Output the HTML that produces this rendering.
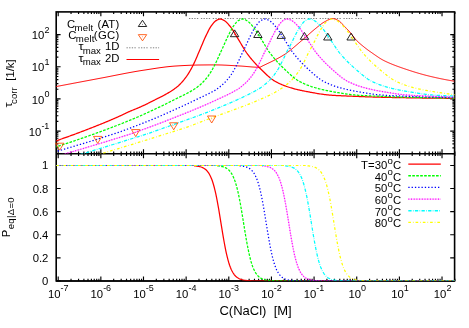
<!DOCTYPE html>
<html><head><meta charset="utf-8"><title>plot</title>
<style>html,body{margin:0;padding:0;background:#fff;}svg{display:block;will-change:transform;}</style>
</head><body>
<svg width="469" height="328" viewBox="0 0 469 328">
<rect width="469" height="328" fill="#fff"/>
<g stroke="#000" fill="none">
<rect x="56.20" y="11.90" width="398.40" height="269.00" stroke-width="1.6"/>
<path d="M56.20,153.75 L454.60,153.75" stroke-width="1.6"/>
<path d="M58.20,11.90 v4.40 M58.20,149.35 v8.80 M58.20,280.90 v-4.40 M71.04,11.90 v2.20 M71.04,151.55 v4.40 M71.04,280.90 v-2.20 M78.55,11.90 v2.20 M78.55,151.55 v4.40 M78.55,280.90 v-2.20 M83.88,11.90 v2.20 M83.88,151.55 v4.40 M83.88,280.90 v-2.20 M88.01,11.90 v2.20 M88.01,151.55 v4.40 M88.01,280.90 v-2.20 M91.39,11.90 v2.20 M91.39,151.55 v4.40 M91.39,280.90 v-2.20 M94.24,11.90 v2.20 M94.24,151.55 v4.40 M94.24,280.90 v-2.20 M96.71,11.90 v2.20 M96.71,151.55 v4.40 M96.71,280.90 v-2.20 M98.90,11.90 v2.20 M98.90,151.55 v4.40 M98.90,280.90 v-2.20 M100.85,11.90 v4.40 M100.85,149.35 v8.80 M100.85,280.90 v-4.40 M113.69,11.90 v2.20 M113.69,151.55 v4.40 M113.69,280.90 v-2.20 M121.19,11.90 v2.20 M121.19,151.55 v4.40 M121.19,280.90 v-2.20 M126.52,11.90 v2.20 M126.52,151.55 v4.40 M126.52,280.90 v-2.20 M130.66,11.90 v2.20 M130.66,151.55 v4.40 M130.66,280.90 v-2.20 M134.03,11.90 v2.20 M134.03,151.55 v4.40 M134.03,280.90 v-2.20 M136.89,11.90 v2.20 M136.89,151.55 v4.40 M136.89,280.90 v-2.20 M139.36,11.90 v2.20 M139.36,151.55 v4.40 M139.36,280.90 v-2.20 M141.54,11.90 v2.20 M141.54,151.55 v4.40 M141.54,280.90 v-2.20 M143.49,11.90 v4.40 M143.49,149.35 v8.80 M143.49,280.90 v-4.40 M156.33,11.90 v2.20 M156.33,151.55 v4.40 M156.33,280.90 v-2.20 M163.84,11.90 v2.20 M163.84,151.55 v4.40 M163.84,280.90 v-2.20 M169.17,11.90 v2.20 M169.17,151.55 v4.40 M169.17,280.90 v-2.20 M173.30,11.90 v2.20 M173.30,151.55 v4.40 M173.30,280.90 v-2.20 M176.68,11.90 v2.20 M176.68,151.55 v4.40 M176.68,280.90 v-2.20 M179.53,11.90 v2.20 M179.53,151.55 v4.40 M179.53,280.90 v-2.20 M182.01,11.90 v2.20 M182.01,151.55 v4.40 M182.01,280.90 v-2.20 M184.19,11.90 v2.20 M184.19,151.55 v4.40 M184.19,280.90 v-2.20 M186.14,11.90 v4.40 M186.14,149.35 v8.80 M186.14,280.90 v-4.40 M198.98,11.90 v2.20 M198.98,151.55 v4.40 M198.98,280.90 v-2.20 M206.49,11.90 v2.20 M206.49,151.55 v4.40 M206.49,280.90 v-2.20 M211.82,11.90 v2.20 M211.82,151.55 v4.40 M211.82,280.90 v-2.20 M215.95,11.90 v2.20 M215.95,151.55 v4.40 M215.95,280.90 v-2.20 M219.33,11.90 v2.20 M219.33,151.55 v4.40 M219.33,280.90 v-2.20 M222.18,11.90 v2.20 M222.18,151.55 v4.40 M222.18,280.90 v-2.20 M224.66,11.90 v2.20 M224.66,151.55 v4.40 M224.66,280.90 v-2.20 M226.84,11.90 v2.20 M226.84,151.55 v4.40 M226.84,280.90 v-2.20 M228.79,11.90 v4.40 M228.79,149.35 v8.80 M228.79,280.90 v-4.40 M241.63,11.90 v2.20 M241.63,151.55 v4.40 M241.63,280.90 v-2.20 M249.14,11.90 v2.20 M249.14,151.55 v4.40 M249.14,280.90 v-2.20 M254.46,11.90 v2.20 M254.46,151.55 v4.40 M254.46,280.90 v-2.20 M258.60,11.90 v2.20 M258.60,151.55 v4.40 M258.60,280.90 v-2.20 M261.97,11.90 v2.20 M261.97,151.55 v4.40 M261.97,280.90 v-2.20 M264.83,11.90 v2.20 M264.83,151.55 v4.40 M264.83,280.90 v-2.20 M267.30,11.90 v2.20 M267.30,151.55 v4.40 M267.30,280.90 v-2.20 M269.48,11.90 v2.20 M269.48,151.55 v4.40 M269.48,280.90 v-2.20 M271.44,11.90 v4.40 M271.44,149.35 v8.80 M271.44,280.90 v-4.40 M284.27,11.90 v2.20 M284.27,151.55 v4.40 M284.27,280.90 v-2.20 M291.78,11.90 v2.20 M291.78,151.55 v4.40 M291.78,280.90 v-2.20 M297.11,11.90 v2.20 M297.11,151.55 v4.40 M297.11,280.90 v-2.20 M301.24,11.90 v2.20 M301.24,151.55 v4.40 M301.24,280.90 v-2.20 M304.62,11.90 v2.20 M304.62,151.55 v4.40 M304.62,280.90 v-2.20 M307.48,11.90 v2.20 M307.48,151.55 v4.40 M307.48,280.90 v-2.20 M309.95,11.90 v2.20 M309.95,151.55 v4.40 M309.95,280.90 v-2.20 M312.13,11.90 v2.20 M312.13,151.55 v4.40 M312.13,280.90 v-2.20 M314.08,11.90 v4.40 M314.08,149.35 v8.80 M314.08,280.90 v-4.40 M326.92,11.90 v2.20 M326.92,151.55 v4.40 M326.92,280.90 v-2.20 M334.43,11.90 v2.20 M334.43,151.55 v4.40 M334.43,280.90 v-2.20 M339.76,11.90 v2.20 M339.76,151.55 v4.40 M339.76,280.90 v-2.20 M343.89,11.90 v2.20 M343.89,151.55 v4.40 M343.89,280.90 v-2.20 M347.27,11.90 v2.20 M347.27,151.55 v4.40 M347.27,280.90 v-2.20 M350.12,11.90 v2.20 M350.12,151.55 v4.40 M350.12,280.90 v-2.20 M352.60,11.90 v2.20 M352.60,151.55 v4.40 M352.60,280.90 v-2.20 M354.78,11.90 v2.20 M354.78,151.55 v4.40 M354.78,280.90 v-2.20 M356.73,11.90 v4.40 M356.73,149.35 v8.80 M356.73,280.90 v-4.40 M369.57,11.90 v2.20 M369.57,151.55 v4.40 M369.57,280.90 v-2.20 M377.08,11.90 v2.20 M377.08,151.55 v4.40 M377.08,280.90 v-2.20 M382.41,11.90 v2.20 M382.41,151.55 v4.40 M382.41,280.90 v-2.20 M386.54,11.90 v2.20 M386.54,151.55 v4.40 M386.54,280.90 v-2.20 M389.91,11.90 v2.20 M389.91,151.55 v4.40 M389.91,280.90 v-2.20 M392.77,11.90 v2.20 M392.77,151.55 v4.40 M392.77,280.90 v-2.20 M395.24,11.90 v2.20 M395.24,151.55 v4.40 M395.24,280.90 v-2.20 M397.42,11.90 v2.20 M397.42,151.55 v4.40 M397.42,280.90 v-2.20 M399.38,11.90 v4.40 M399.38,149.35 v8.80 M399.38,280.90 v-4.40 M412.21,11.90 v2.20 M412.21,151.55 v4.40 M412.21,280.90 v-2.20 M419.72,11.90 v2.20 M419.72,151.55 v4.40 M419.72,280.90 v-2.20 M425.05,11.90 v2.20 M425.05,151.55 v4.40 M425.05,280.90 v-2.20 M429.18,11.90 v2.20 M429.18,151.55 v4.40 M429.18,280.90 v-2.20 M432.56,11.90 v2.20 M432.56,151.55 v4.40 M432.56,280.90 v-2.20 M435.42,11.90 v2.20 M435.42,151.55 v4.40 M435.42,280.90 v-2.20 M437.89,11.90 v2.20 M437.89,151.55 v4.40 M437.89,280.90 v-2.20 M440.07,11.90 v2.20 M440.07,151.55 v4.40 M440.07,280.90 v-2.20 M442.02,11.90 v4.40 M442.02,149.35 v8.80 M442.02,280.90 v-4.40 M454.86,11.90 v2.20 M454.86,151.55 v4.40 M454.86,280.90 v-2.20 M56.20,153.60 h2.20 M454.60,153.60 h-2.20 M56.20,147.93 h2.20 M454.60,147.93 h-2.20 M56.20,143.91 h2.20 M454.60,143.91 h-2.20 M56.20,140.80 h2.20 M454.60,140.80 h-2.20 M56.20,138.25 h2.20 M454.60,138.25 h-2.20 M56.20,136.10 h2.20 M454.60,136.10 h-2.20 M56.20,134.23 h2.20 M454.60,134.23 h-2.20 M56.20,132.59 h2.20 M454.60,132.59 h-2.20 M56.20,131.11 h4.40 M454.60,131.11 h-4.40 M56.20,121.43 h2.20 M454.60,121.43 h-2.20 M56.20,115.76 h2.20 M454.60,115.76 h-2.20 M56.20,111.74 h2.20 M454.60,111.74 h-2.20 M56.20,108.63 h2.20 M454.60,108.63 h-2.20 M56.20,106.08 h2.20 M454.60,106.08 h-2.20 M56.20,103.93 h2.20 M454.60,103.93 h-2.20 M56.20,102.06 h2.20 M454.60,102.06 h-2.20 M56.20,100.42 h2.20 M454.60,100.42 h-2.20 M56.20,98.94 h4.40 M454.60,98.94 h-4.40 M56.20,89.26 h2.20 M454.60,89.26 h-2.20 M56.20,83.59 h2.20 M454.60,83.59 h-2.20 M56.20,79.57 h2.20 M454.60,79.57 h-2.20 M56.20,76.46 h2.20 M454.60,76.46 h-2.20 M56.20,73.91 h2.20 M454.60,73.91 h-2.20 M56.20,71.76 h2.20 M454.60,71.76 h-2.20 M56.20,69.89 h2.20 M454.60,69.89 h-2.20 M56.20,68.25 h2.20 M454.60,68.25 h-2.20 M56.20,66.77 h4.40 M454.60,66.77 h-4.40 M56.20,57.09 h2.20 M454.60,57.09 h-2.20 M56.20,51.42 h2.20 M454.60,51.42 h-2.20 M56.20,47.40 h2.20 M454.60,47.40 h-2.20 M56.20,44.29 h2.20 M454.60,44.29 h-2.20 M56.20,41.74 h2.20 M454.60,41.74 h-2.20 M56.20,39.59 h2.20 M454.60,39.59 h-2.20 M56.20,37.72 h2.20 M454.60,37.72 h-2.20 M56.20,36.08 h2.20 M454.60,36.08 h-2.20 M56.20,34.60 h4.40 M454.60,34.60 h-4.40 M56.20,280.90 h4.40 M454.60,280.90 h-4.40 M56.20,257.81 h4.40 M454.60,257.81 h-4.40 M56.20,234.72 h4.40 M454.60,234.72 h-4.40 M56.20,211.63 h4.40 M454.60,211.63 h-4.40 M56.20,188.54 h4.40 M454.60,188.54 h-4.40 M56.20,165.45 h4.40 M454.60,165.45 h-4.40" stroke-width="1.15"/>
</g>
<clipPath id="ct"><rect x="56.20" y="11.90" width="398.40" height="141.85"/></clipPath>
<clipPath id="cb"><rect x="56.20" y="153.75" width="398.40" height="127.15"/></clipPath>
<g clip-path="url(#ct)">
<path d="M189,18.5 L363,18.5" stroke="#808080" stroke-width="1" fill="none" stroke-dasharray="1.32,1.32,1.32,1.32,1.32,1.32,1.32,2.64"/>
<path d="M56.20,86.55 L57.20,86.36 L58.20,86.17 L59.19,85.98 L60.19,85.80 L61.19,85.61 L62.19,85.42 L63.19,85.23 L64.19,85.04 L65.18,84.85 L66.18,84.66 L67.18,84.47 L68.18,84.28 L69.18,84.10 L70.18,83.91 L71.17,83.72 L72.17,83.53 L73.17,83.34 L74.17,83.15 L75.17,82.97 L76.16,82.78 L77.16,82.59 L78.16,82.40 L79.16,82.21 L80.16,82.03 L81.16,81.84 L82.15,81.65 L83.15,81.46 L84.15,81.27 L85.15,81.09 L86.15,80.90 L87.15,80.71 L88.14,80.52 L89.14,80.34 L90.14,80.15 L91.14,79.96 L92.14,79.77 L93.14,79.59 L94.13,79.40 L95.13,79.21 L96.13,79.02 L97.13,78.84 L98.13,78.65 L99.12,78.46 L100.12,78.28 L101.12,78.09 L102.12,77.90 L103.12,77.71 L104.12,77.52 L105.11,77.33 L106.11,77.13 L107.11,76.94 L108.11,76.74 L109.11,76.55 L110.11,76.35 L111.10,76.15 L112.10,75.96 L113.10,75.76 L114.10,75.56 L115.10,75.37 L116.09,75.17 L117.09,74.97 L118.09,74.78 L119.09,74.58 L120.09,74.39 L121.09,74.19 L122.08,74.00 L123.08,73.80 L124.08,73.61 L125.08,73.42 L126.08,73.23 L127.08,73.04 L128.07,72.86 L129.07,72.67 L130.07,72.49 L131.07,72.31 L132.07,72.13 L133.06,71.95 L134.06,71.77 L135.06,71.60 L136.06,71.42 L137.06,71.25 L138.06,71.09 L139.05,70.92 L140.05,70.76 L141.05,70.60 L142.05,70.45 L143.05,70.29 L144.05,70.14 L145.04,69.99 L146.04,69.83 L147.04,69.68 L148.04,69.52 L149.04,69.36 L150.04,69.21 L151.03,69.05 L152.03,68.90 L153.03,68.74 L154.03,68.59 L155.03,68.44 L156.02,68.28 L157.02,68.14 L158.02,67.99 L159.02,67.84 L160.02,67.70 L161.02,67.56 L162.01,67.43 L163.01,67.30 L164.01,67.17 L165.01,67.04 L166.01,66.92 L167.01,66.81 L168.00,66.69 L169.00,66.59 L170.00,66.49 L171.00,66.39 L172.00,66.30 L172.99,66.22 L173.99,66.14 L174.99,66.07 L175.99,66.00 L176.99,65.94 L177.99,65.88 L178.98,65.82 L179.98,65.76 L180.98,65.71 L181.98,65.65 L182.98,65.60 L183.98,65.54 L184.97,65.49 L185.97,65.44 L186.97,65.40 L187.97,65.35 L188.97,65.31 L189.96,65.27 L190.96,65.23 L191.96,65.19 L192.96,65.16 L193.96,65.13 L194.96,65.10 L195.95,65.07 L196.95,65.05 L197.95,65.03 L198.95,65.01 L199.95,65.00 L200.95,64.99 L201.94,64.98 L202.94,64.97 L203.94,64.96 L204.94,64.95 L205.94,64.94 L206.94,64.93 L207.93,64.93 L208.93,64.92 L209.93,64.91 L210.93,64.91 L211.93,64.91 L212.92,64.90 L213.92,64.90 L214.92,64.90 L215.92,64.90 L216.92,64.91 L217.92,64.93 L218.91,64.94 L219.91,64.97 L220.91,65.00 L221.91,65.03 L222.91,65.07 L223.91,65.11 L224.90,65.16 L225.90,65.20 L226.90,65.25 L227.90,65.30 L228.90,65.36 L229.89,65.42 L230.89,65.47 L231.89,65.53 L232.89,65.59 L233.89,65.65 L234.89,65.71 L235.88,65.77 L236.88,65.83 L237.88,65.88 L238.88,65.94 L239.88,65.99 L240.88,66.05 L241.87,66.11 L242.87,66.19 L243.87,66.26 L244.87,66.35 L245.87,66.43 L246.86,66.52 L247.86,66.61 L248.86,66.70 L249.86,66.78 L250.86,66.87 L251.86,66.95 L252.85,67.02 L253.85,67.09 L254.85,67.15 L255.85,67.20 L256.85,67.24 L257.85,67.28 L258.84,67.29 L259.84,67.29 L260.84,66.90 L261.84,66.28 L262.84,65.79 L263.84,65.31 L264.83,64.82 L265.83,64.35 L266.83,63.87 L267.83,63.39 L268.83,62.92 L269.82,62.44 L270.82,61.96 L271.82,61.47 L272.82,60.98 L273.82,60.48 L274.82,59.98 L275.81,59.47 L276.81,58.94 L277.81,58.41 L278.81,57.87 L279.81,57.31 L280.81,56.74 L281.80,56.15 L282.80,55.55 L283.80,54.93 L284.80,54.28 L285.80,53.61 L286.79,52.91 L287.79,52.18 L288.79,51.42 L289.79,50.65 L290.79,49.86 L291.79,49.04 L292.78,48.22 L293.78,47.38 L294.78,46.53 L295.78,45.68 L296.78,44.82 L297.78,43.96 L298.77,43.10 L299.77,42.24 L300.77,41.38 L301.77,40.53 L302.77,39.69 L303.76,38.84 L304.76,37.96 L305.76,37.08 L306.76,36.18 L307.76,35.28 L308.76,34.39 L309.75,33.49 L310.75,32.60 L311.75,31.72 L312.75,30.86 L313.75,30.02 L314.75,29.20 L315.74,28.40 L316.74,27.58 L317.74,26.76 L318.74,25.95 L319.74,25.15 L320.74,24.38 L321.73,23.64 L322.73,22.95 L323.73,22.31 L324.73,21.74 L325.73,21.22 L326.72,20.67 L327.72,20.14 L328.72,19.63 L329.72,19.20 L330.72,18.86 L331.72,18.65 L332.71,18.60 L333.71,18.71 L334.71,18.96 L335.71,19.31 L336.71,19.73 L337.71,20.21 L338.70,20.71 L339.70,21.40 L340.70,22.30 L341.70,23.35 L342.70,24.47 L343.69,25.57 L344.69,26.61 L345.69,27.64 L346.69,28.70 L347.69,29.77 L348.69,30.87 L349.68,31.99 L350.68,33.14 L351.68,34.34 L352.68,35.64 L353.68,36.99 L354.68,38.30 L355.67,39.47 L356.67,40.52 L357.67,41.51 L358.67,42.45 L359.67,43.36 L360.66,44.22 L361.66,45.07 L362.66,45.89 L363.66,46.71 L364.66,47.51 L365.66,48.29 L366.65,49.05 L367.65,49.80 L368.65,50.53 L369.65,51.25 L370.65,51.95 L371.65,52.65 L372.64,53.34 L373.64,54.03 L374.64,54.72 L375.64,55.41 L376.64,56.10 L377.64,56.78 L378.63,57.45 L379.63,58.11 L380.63,58.73 L381.63,59.33 L382.63,59.89 L383.62,60.41 L384.62,60.91 L385.62,61.40 L386.62,61.87 L387.62,62.32 L388.62,62.77 L389.61,63.20 L390.61,63.63 L391.61,64.04 L392.61,64.45 L393.61,64.84 L394.61,65.23 L395.60,65.61 L396.60,65.98 L397.60,66.35 L398.60,66.71 L399.60,67.07 L400.59,67.42 L401.59,67.77 L402.59,68.11 L403.59,68.46 L404.59,68.80 L405.59,69.14 L406.58,69.48 L407.58,69.81 L408.58,70.14 L409.58,70.47 L410.58,70.79 L411.58,71.11 L412.57,71.43 L413.57,71.74 L414.57,72.05 L415.57,72.36 L416.57,72.66 L417.56,72.96 L418.56,73.25 L419.56,73.54 L420.56,73.83 L421.56,74.11 L422.56,74.39 L423.55,74.66 L424.55,74.93 L425.55,75.19 L426.55,75.45 L427.55,75.70 L428.55,75.95 L429.54,76.19 L430.54,76.43 L431.54,76.66 L432.54,76.90 L433.54,77.13 L434.54,77.35 L435.53,77.58 L436.53,77.80 L437.53,78.02 L438.53,78.23 L439.53,78.45 L440.52,78.66 L441.52,78.86 L442.52,79.06 L443.52,79.26 L444.52,79.46 L445.52,79.65 L446.51,79.84 L447.51,80.02 L448.51,80.20 L449.51,80.38 L450.51,80.55 L451.51,80.72 L452.50,80.88 L453.50,81.04 L454.50,81.20" stroke="#ff0000" stroke-width="1.0" fill="none"/>
<path d="M54.46,141.43 L55.23,141.16 L56.00,140.89 L56.77,140.63 L57.55,140.36 L58.32,140.09 L59.09,139.82 L59.86,139.55 L60.63,139.28 L61.40,139.01 L62.17,138.74 L62.95,138.46 L63.72,138.19 L64.49,137.92 L65.26,137.64 L66.03,137.37 L66.80,137.09 L67.57,136.81 L68.35,136.54 L69.12,136.26 L69.89,135.98 L70.66,135.70 L71.43,135.42 L72.20,135.14 L72.98,134.86 L73.75,134.57 L74.52,134.29 L75.29,134.01 L76.06,133.72 L76.83,133.43 L77.60,133.15 L78.38,132.86 L79.15,132.57 L79.92,132.28 L80.69,131.99 L81.46,131.70 L82.23,131.41 L83.00,131.12 L83.78,130.82 L84.55,130.53 L85.32,130.23 L86.09,129.94 L86.86,129.64 L87.63,129.34 L88.41,129.04 L89.18,128.74 L89.95,128.44 L90.72,128.14 L91.49,127.84 L92.26,127.53 L93.03,127.23 L93.81,126.92 L94.58,126.62 L95.35,126.31 L96.12,126.01 L96.89,125.70 L97.66,125.39 L98.43,125.08 L99.21,124.77 L99.98,124.46 L100.75,124.15 L101.52,123.84 L102.29,123.52 L103.06,123.21 L103.84,122.90 L104.61,122.58 L105.38,122.26 L106.15,121.94 L106.92,121.62 L107.69,121.30 L108.46,120.98 L109.24,120.65 L110.01,120.33 L110.78,120.00 L111.55,119.67 L112.32,119.34 L113.09,119.01 L113.86,118.68 L114.64,118.34 L115.41,118.00 L116.18,117.66 L116.95,117.32 L117.72,116.97 L118.49,116.63 L119.27,116.28 L120.04,115.92 L120.81,115.56 L121.58,115.21 L122.35,114.84 L123.12,114.48 L123.89,114.12 L124.67,113.75 L125.44,113.39 L126.21,113.03 L126.98,112.66 L127.75,112.30 L128.52,111.94 L129.29,111.57 L130.07,111.21 L130.84,110.91 L131.61,110.60 L132.38,110.29 L133.15,109.98 L133.92,109.67 L134.70,109.36 L135.47,109.04 L136.24,108.72 L137.01,108.40 L137.78,108.07 L138.55,107.74 L139.32,107.41 L140.10,107.08 L140.87,106.74 L141.64,106.39 L142.41,106.04 L143.18,105.69 L143.95,105.33 L144.73,104.96 L145.50,104.59 L146.27,104.22 L147.04,103.83 L147.81,103.45 L148.58,103.06 L149.35,102.67 L150.13,102.27 L150.90,101.87 L151.67,101.48 L152.44,101.09 L153.21,100.70 L153.98,100.32 L154.75,99.94 L155.53,99.56 L156.30,99.18 L157.07,98.80 L157.84,98.42 L158.61,98.04 L159.38,97.66 L160.16,97.28 L160.93,96.89 L161.70,96.49 L162.47,96.09 L163.24,95.68 L164.01,95.27 L164.78,94.84 L165.56,94.41 L166.33,93.98 L167.10,93.54 L167.87,93.10 L168.64,92.65 L169.41,92.19 L170.18,91.72 L170.96,91.24 L171.73,90.74 L172.50,90.23 L173.27,89.71 L174.04,89.17 L174.81,88.61 L175.59,88.03 L176.36,87.43 L177.13,86.81 L177.90,86.16 L178.67,85.47 L179.44,84.74 L180.21,83.98 L180.99,83.18 L181.76,82.34 L182.53,81.47 L183.30,80.57 L184.07,79.63 L184.84,78.64 L185.61,77.63 L186.39,76.59 L187.16,75.49 L187.93,74.34 L188.70,73.14 L189.47,71.88 L190.24,70.56 L191.02,69.17 L191.79,67.72 L192.56,66.23 L193.33,64.70 L194.10,63.12 L194.87,61.45 L195.64,59.72 L196.42,57.94 L197.19,56.14 L197.96,54.33 L198.73,52.53 L199.50,50.75 L200.27,48.94 L201.04,47.10 L201.82,45.26 L202.59,43.42 L203.36,41.60 L204.13,39.81 L204.90,38.07 L205.67,36.38 L206.45,34.76 L207.22,33.17 L207.99,31.60 L208.76,30.07 L209.53,28.65 L210.30,27.35 L211.07,26.20 L211.85,25.11 L212.62,24.06 L213.39,23.07 L214.16,22.19 L214.93,21.44 L215.70,20.84 L216.48,20.38 L217.25,19.94 L218.02,19.55 L218.79,19.24 L219.56,19.05 L220.33,18.99 L221.10,19.11 L221.88,19.36 L222.65,19.71 L223.42,20.13 L224.19,20.57 L224.96,21.04 L225.73,21.62 L226.50,22.31 L227.28,23.09 L228.05,23.94 L228.82,24.84 L229.59,25.77 L230.36,26.71 L231.13,27.70 L231.91,28.78 L232.68,29.92 L233.45,31.13 L234.22,32.38 L234.99,33.67 L235.76,34.97 L236.53,36.28 L237.31,37.59 L238.08,38.88 L238.85,40.13 L239.62,41.40 L240.39,42.70 L241.16,44.02 L241.93,45.35 L242.71,46.67 L243.48,47.97 L244.25,49.25 L245.02,50.48 L245.79,51.65 L246.56,52.76 L247.34,53.81 L248.11,54.84 L248.88,55.84 L249.65,56.83 L250.42,57.79 L251.19,58.73 L251.96,59.66 L252.74,60.56 L253.51,61.45 L254.28,62.32 L255.05,63.18 L255.82,64.02 L256.59,64.85 L257.36,65.66 L258.14,66.45 L258.91,67.24 L259.68,68.01 L260.45,68.78 L261.22,69.54 L261.99,70.29 L262.77,71.05 L263.54,71.81 L264.31,72.56 L265.08,73.30 L265.85,74.03 L266.62,74.75 L267.39,75.46 L268.17,76.15 L268.94,76.82 L269.71,77.48 L270.48,78.11 L271.25,78.72 L272.02,79.30 L272.79,79.85 L273.57,80.38 L274.34,80.87 L275.11,81.33 L275.88,81.76 L276.65,82.17 L277.42,82.57 L278.20,82.96 L278.97,83.34 L279.74,83.70 L280.51,84.05 L281.28,84.39 L282.05,84.72 L282.82,85.04 L283.60,85.35 L284.37,85.65 L285.14,85.94 L285.91,86.22 L286.68,86.49 L287.45,86.75 L288.23,87.01 L289.00,87.26 L289.77,87.50 L290.54,87.74 L291.31,87.97 L292.08,88.19 L292.85,88.41 L293.63,88.62 L294.40,88.83 L295.17,89.03 L295.94,89.23 L296.71,89.42 L297.48,89.61 L298.25,89.79 L299.03,89.97 L299.80,90.14 L300.57,90.31 L301.34,90.48 L302.11,90.64 L302.88,90.80 L303.66,90.96 L304.43,91.11 L305.20,91.26 L305.97,91.41 L306.74,91.55 L307.51,91.70 L308.28,91.85 L309.06,91.99 L309.83,92.14 L310.60,92.28 L311.37,92.42 L312.14,92.57 L312.91,92.71 L313.68,92.84 L314.46,92.98 L315.23,93.12 L316.00,93.25 L316.77,93.38 L317.54,93.51 L318.31,93.64 L319.09,93.76 L319.86,93.88 L320.63,94.00 L321.40,94.11 L322.17,94.22 L322.94,94.33 L323.71,94.43 L324.49,94.53 L325.26,94.63 L326.03,94.72 L326.80,94.80 L327.57,94.89 L328.34,94.96 L329.11,95.04 L329.89,95.10 L330.66,95.17 L331.43,95.22 L332.20,95.28 L332.97,95.33 L333.74,95.38 L334.52,95.43 L335.29,95.47 L336.06,95.51 L336.83,95.55 L337.60,95.59 L338.37,95.63 L339.14,95.67 L339.92,95.70 L340.69,95.74 L341.46,95.77 L342.23,95.81 L343.00,95.85 L343.77,95.88 L344.54,95.91 L345.32,95.95 L346.09,95.98 L346.86,96.02 L347.63,96.05 L348.40,96.08 L349.17,96.12 L349.95,96.15 L350.72,96.18 L351.49,96.22 L352.26,96.25 L353.03,96.28 L353.80,96.31 L354.57,96.34 L355.35,96.38 L356.12,96.41 L356.89,96.44 L357.66,96.47 L358.43,96.50 L359.20,96.53 L359.97,96.56 L360.75,96.59 L361.52,96.62 L362.29,96.65 L363.06,96.68 L363.83,96.70 L364.60,96.73 L365.38,96.76 L366.15,96.79 L366.92,96.82 L367.69,96.84 L368.46,96.87 L369.23,96.89 L370.00,96.92 L370.78,96.95 L371.55,96.97 L372.32,97.00 L373.09,97.02 L373.86,97.05 L374.63,97.07 L375.41,97.09 L376.18,97.12 L376.95,97.14 L377.72,97.16 L378.49,97.18 L379.26,97.21 L380.03,97.23 L380.81,97.25 L381.58,97.27 L382.35,97.29 L383.12,97.31 L383.89,97.33 L384.66,97.35 L385.43,97.36 L386.21,97.38 L386.98,97.40 L387.75,97.42 L388.52,97.43 L389.29,97.45 L390.06,97.47 L390.84,97.48 L391.61,97.50 L392.38,97.51 L393.15,97.53 L393.92,97.54 L394.69,97.56 L395.46,97.57 L396.24,97.59 L397.01,97.60 L397.78,97.61 L398.55,97.63 L399.32,97.64 L400.09,97.66 L400.86,97.67 L401.64,97.68 L402.41,97.70 L403.18,97.71 L403.95,97.72 L404.72,97.74 L405.49,97.75 L406.27,97.76 L407.04,97.77 L407.81,97.79 L408.58,97.80 L409.35,97.81 L410.12,97.82 L410.89,97.84 L411.67,97.85 L412.44,97.86 L413.21,97.87 L413.98,97.88 L414.75,97.90 L415.52,97.91 L416.29,97.92 L417.07,97.93 L417.84,97.94 L418.61,97.95 L419.38,97.96 L420.15,97.97 L420.92,97.98 L421.70,98.00 L422.47,98.01 L423.24,98.02 L424.01,98.03 L424.78,98.04 L425.55,98.05 L426.32,98.06 L427.10,98.07 L427.87,98.08 L428.64,98.08 L429.41,98.09 L430.18,98.10 L430.95,98.11 L431.72,98.12 L432.50,98.13 L433.27,98.14 L434.04,98.15 L434.81,98.16 L435.58,98.16 L436.35,98.17 L437.13,98.18 L437.90,98.19 L438.67,98.20 L439.44,98.20 L440.21,98.21 L440.98,98.22 L441.75,98.23 L442.53,98.23 L443.30,98.24 L444.07,98.25 L444.84,98.25 L445.61,98.26 L446.38,98.27 L447.16,98.27 L447.93,98.28 L448.70,98.29 L449.47,98.29 L450.24,98.30 L451.01,98.30 L451.78,98.31 L452.56,98.32 L453.33,98.32 L454.10,98.33 L454.87,98.33" stroke="#ff0000" stroke-width="1.25" fill="none"/>
<path d="M54.46,147.46 L55.23,147.21 L56.00,146.95 L56.77,146.70 L57.55,146.45 L58.32,146.20 L59.09,145.94 L59.86,145.69 L60.63,145.44 L61.40,145.18 L62.17,144.93 L62.95,144.67 L63.72,144.42 L64.49,144.16 L65.26,143.90 L66.03,143.65 L66.80,143.39 L67.57,143.13 L68.35,142.87 L69.12,142.62 L69.89,142.36 L70.66,142.10 L71.43,141.84 L72.20,141.58 L72.98,141.32 L73.75,141.06 L74.52,140.79 L75.29,140.53 L76.06,140.27 L76.83,140.01 L77.60,139.74 L78.38,139.48 L79.15,139.21 L79.92,138.95 L80.69,138.68 L81.46,138.42 L82.23,138.15 L83.00,137.88 L83.78,137.61 L84.55,137.34 L85.32,137.07 L86.09,136.80 L86.86,136.53 L87.63,136.26 L88.41,135.99 L89.18,135.72 L89.95,135.45 L90.72,135.17 L91.49,134.90 L92.26,134.62 L93.03,134.35 L93.81,134.07 L94.58,133.79 L95.35,133.52 L96.12,133.24 L96.89,132.96 L97.66,132.68 L98.43,132.40 L99.21,132.11 L99.98,131.83 L100.75,131.55 L101.52,131.27 L102.29,130.98 L103.06,130.69 L103.84,130.41 L104.61,130.12 L105.38,129.83 L106.15,129.54 L106.92,129.26 L107.69,128.97 L108.46,128.67 L109.24,128.38 L110.01,128.09 L110.78,127.80 L111.55,127.50 L112.32,127.20 L113.09,126.91 L113.86,126.61 L114.64,126.31 L115.41,126.01 L116.18,125.72 L116.95,125.42 L117.72,125.11 L118.49,124.81 L119.27,124.51 L120.04,124.21 L120.81,123.91 L121.58,123.60 L122.35,123.30 L123.12,122.99 L123.89,122.69 L124.67,122.38 L125.44,122.07 L126.21,121.76 L126.98,121.45 L127.75,121.14 L128.52,120.83 L129.29,120.51 L130.07,120.20 L130.84,119.88 L131.61,119.56 L132.38,119.24 L133.15,118.92 L133.92,118.60 L134.70,118.28 L135.47,117.95 L136.24,117.63 L137.01,117.30 L137.78,116.97 L138.55,116.63 L139.32,116.30 L140.10,115.96 L140.87,115.62 L141.64,115.28 L142.41,114.93 L143.18,114.58 L143.95,114.23 L144.73,113.88 L145.50,113.52 L146.27,113.17 L147.04,112.81 L147.81,112.46 L148.58,112.10 L149.35,111.75 L150.13,111.39 L150.90,111.04 L151.67,110.68 L152.44,110.32 L153.21,109.96 L153.98,109.60 L154.75,109.24 L155.53,108.88 L156.30,108.52 L157.07,108.16 L157.84,107.80 L158.61,107.43 L159.38,107.07 L160.16,106.70 L160.93,106.33 L161.70,105.96 L162.47,105.59 L163.24,105.21 L164.01,104.84 L164.78,104.46 L165.56,104.08 L166.33,103.70 L167.10,103.31 L167.87,102.93 L168.64,102.54 L169.41,102.15 L170.18,101.76 L170.96,101.37 L171.73,100.98 L172.50,100.59 L173.27,100.20 L174.04,99.81 L174.81,99.43 L175.59,99.05 L176.36,98.67 L177.13,98.29 L177.90,97.92 L178.67,97.55 L179.44,97.18 L180.21,96.81 L180.99,96.43 L181.76,96.06 L182.53,95.68 L183.30,95.29 L184.07,94.90 L184.84,94.51 L185.61,94.11 L186.39,93.70 L187.16,93.28 L187.93,92.86 L188.70,92.44 L189.47,92.02 L190.24,91.60 L191.02,91.17 L191.79,90.74 L192.56,90.30 L193.33,89.85 L194.10,89.34 L194.87,88.82 L195.64,88.28 L196.42,87.73 L197.19,87.15 L197.96,86.56 L198.73,85.95 L199.50,85.33 L200.27,84.68 L201.04,83.99 L201.82,83.28 L202.59,82.53 L203.36,81.74 L204.13,80.92 L204.90,80.07 L205.67,79.19 L206.45,78.27 L207.22,77.31 L207.99,76.28 L208.76,75.20 L209.53,74.07 L210.30,72.89 L211.07,71.66 L211.85,70.37 L212.62,69.01 L213.39,67.59 L214.16,66.11 L214.93,64.59 L215.70,63.04 L216.48,61.44 L217.25,59.78 L218.02,58.06 L218.79,56.34 L219.56,54.63 L220.33,52.93 L221.10,51.27 L221.88,49.63 L222.65,47.97 L223.42,46.27 L224.19,44.56 L224.96,42.83 L225.73,41.09 L226.50,39.37 L227.28,37.69 L228.05,36.06 L228.82,34.50 L229.59,32.96 L230.36,31.44 L231.13,29.96 L231.91,28.57 L232.68,27.29 L233.45,26.17 L234.22,25.08 L234.99,24.03 L235.76,23.05 L236.53,22.17 L237.31,21.42 L238.08,20.83 L238.85,20.37 L239.62,19.93 L240.39,19.54 L241.16,19.23 L241.93,19.04 L242.71,18.99 L243.48,19.10 L244.25,19.34 L245.02,19.67 L245.79,20.07 L246.56,20.50 L247.34,20.94 L248.11,21.48 L248.88,22.13 L249.65,22.87 L250.42,23.67 L251.19,24.53 L251.96,25.42 L252.74,26.32 L253.51,27.25 L254.28,28.26 L255.05,29.34 L255.82,30.48 L256.59,31.67 L257.36,32.90 L258.14,34.15 L258.91,35.42 L259.68,36.69 L260.45,37.95 L261.22,39.19 L261.99,40.40 L262.77,41.63 L263.54,42.89 L264.31,44.17 L265.08,45.46 L265.85,46.74 L266.62,48.00 L267.39,49.24 L268.17,50.43 L268.94,51.57 L269.71,52.65 L270.48,53.67 L271.25,54.66 L272.02,55.64 L272.79,56.60 L273.57,57.54 L274.34,58.46 L275.11,59.36 L275.88,60.24 L276.65,61.11 L277.42,61.96 L278.20,62.79 L278.97,63.61 L279.74,64.42 L280.51,65.21 L281.28,65.99 L282.05,66.76 L282.82,67.51 L283.60,68.26 L284.37,68.99 L285.14,69.73 L285.91,70.46 L286.68,71.20 L287.45,71.93 L288.23,72.65 L289.00,73.37 L289.77,74.08 L290.54,74.77 L291.31,75.46 L292.08,76.13 L292.85,76.78 L293.63,77.42 L294.40,78.03 L295.17,78.62 L295.94,79.19 L296.71,79.73 L297.48,80.25 L298.25,80.73 L299.03,81.19 L299.80,81.61 L300.57,82.02 L301.34,82.41 L302.11,82.79 L302.88,83.16 L303.66,83.52 L304.43,83.86 L305.20,84.20 L305.97,84.52 L306.74,84.84 L307.51,85.14 L308.28,85.44 L309.06,85.73 L309.83,86.00 L310.60,86.27 L311.37,86.54 L312.14,86.79 L312.91,87.04 L313.68,87.28 L314.46,87.51 L315.23,87.74 L316.00,87.96 L316.77,88.18 L317.54,88.39 L318.31,88.60 L319.09,88.80 L319.86,88.99 L320.63,89.19 L321.40,89.37 L322.17,89.55 L322.94,89.73 L323.71,89.91 L324.49,90.08 L325.26,90.24 L326.03,90.41 L326.80,90.57 L327.57,90.72 L328.34,90.87 L329.11,91.02 L329.89,91.17 L330.66,91.32 L331.43,91.46 L332.20,91.60 L332.97,91.74 L333.74,91.88 L334.52,92.02 L335.29,92.16 L336.06,92.30 L336.83,92.44 L337.60,92.58 L338.37,92.71 L339.14,92.85 L339.92,92.98 L340.69,93.11 L341.46,93.24 L342.23,93.37 L343.00,93.49 L343.77,93.61 L344.54,93.73 L345.32,93.85 L346.09,93.97 L346.86,94.08 L347.63,94.18 L348.40,94.29 L349.17,94.39 L349.95,94.49 L350.72,94.58 L351.49,94.67 L352.26,94.76 L353.03,94.84 L353.80,94.92 L354.57,94.99 L355.35,95.06 L356.12,95.12 L356.89,95.18 L357.66,95.24 L358.43,95.29 L359.20,95.34 L359.97,95.39 L360.75,95.43 L361.52,95.48 L362.29,95.52 L363.06,95.56 L363.83,95.59 L364.60,95.63 L365.38,95.67 L366.15,95.70 L366.92,95.73 L367.69,95.77 L368.46,95.80 L369.23,95.84 L370.00,95.87 L370.78,95.90 L371.55,95.94 L372.32,95.97 L373.09,96.00 L373.86,96.04 L374.63,96.07 L375.41,96.10 L376.18,96.13 L376.95,96.17 L377.72,96.20 L378.49,96.23 L379.26,96.26 L380.03,96.29 L380.81,96.32 L381.58,96.35 L382.35,96.38 L383.12,96.41 L383.89,96.44 L384.66,96.47 L385.43,96.50 L386.21,96.53 L386.98,96.56 L387.75,96.59 L388.52,96.62 L389.29,96.65 L390.06,96.67 L390.84,96.70 L391.61,96.73 L392.38,96.76 L393.15,96.78 L393.92,96.81 L394.69,96.83 L395.46,96.86 L396.24,96.89 L397.01,96.91 L397.78,96.94 L398.55,96.96 L399.32,96.98 L400.09,97.01 L400.86,97.03 L401.64,97.06 L402.41,97.08 L403.18,97.10 L403.95,97.12 L404.72,97.15 L405.49,97.17 L406.27,97.19 L407.04,97.21 L407.81,97.23 L408.58,97.25 L409.35,97.27 L410.12,97.29 L410.89,97.31 L411.67,97.33 L412.44,97.35 L413.21,97.36 L413.98,97.38 L414.75,97.40 L415.52,97.42 L416.29,97.43 L417.07,97.45 L417.84,97.46 L418.61,97.48 L419.38,97.49 L420.15,97.51 L420.92,97.52 L421.70,97.54 L422.47,97.55 L423.24,97.56 L424.01,97.58 L424.78,97.59 L425.55,97.61 L426.32,97.62 L427.10,97.63 L427.87,97.65 L428.64,97.66 L429.41,97.67 L430.18,97.69 L430.95,97.70 L431.72,97.71 L432.50,97.73 L433.27,97.74 L434.04,97.75 L434.81,97.76 L435.58,97.78 L436.35,97.79 L437.13,97.80 L437.90,97.81 L438.67,97.82 L439.44,97.84 L440.21,97.85 L440.98,97.86 L441.75,97.87 L442.53,97.88 L443.30,97.89 L444.07,97.90 L444.84,97.91 L445.61,97.93 L446.38,97.94 L447.16,97.95 L447.93,97.96 L448.70,97.97 L449.47,97.98 L450.24,97.99 L451.01,98.00 L451.78,98.01 L452.56,98.02 L453.33,98.03 L454.10,98.04 L454.87,98.05" stroke="#00ff00" stroke-width="1.25" fill="none" stroke-dasharray="2.64,1.32"/>
<path d="M54.46,152.01 L55.23,151.79 L56.00,151.56 L56.77,151.34 L57.55,151.11 L58.32,150.89 L59.09,150.66 L59.86,150.44 L60.63,150.21 L61.40,149.99 L62.17,149.76 L62.95,149.54 L63.72,149.31 L64.49,149.09 L65.26,148.86 L66.03,148.63 L66.80,148.41 L67.57,148.18 L68.35,147.95 L69.12,147.73 L69.89,147.50 L70.66,147.27 L71.43,147.04 L72.20,146.81 L72.98,146.59 L73.75,146.36 L74.52,146.13 L75.29,145.90 L76.06,145.67 L76.83,145.44 L77.60,145.21 L78.38,144.98 L79.15,144.75 L79.92,144.52 L80.69,144.28 L81.46,144.05 L82.23,143.82 L83.00,143.59 L83.78,143.35 L84.55,143.12 L85.32,142.89 L86.09,142.65 L86.86,142.42 L87.63,142.18 L88.41,141.95 L89.18,141.71 L89.95,141.48 L90.72,141.24 L91.49,141.00 L92.26,140.76 L93.03,140.53 L93.81,140.29 L94.58,140.05 L95.35,139.81 L96.12,139.57 L96.89,139.33 L97.66,139.09 L98.43,138.85 L99.21,138.61 L99.98,138.36 L100.75,138.12 L101.52,137.88 L102.29,137.63 L103.06,137.39 L103.84,137.14 L104.61,136.90 L105.38,136.65 L106.15,136.40 L106.92,136.16 L107.69,135.91 L108.46,135.66 L109.24,135.41 L110.01,135.16 L110.78,134.91 L111.55,134.66 L112.32,134.40 L113.09,134.15 L113.86,133.90 L114.64,133.64 L115.41,133.39 L116.18,133.13 L116.95,132.87 L117.72,132.62 L118.49,132.36 L119.27,132.10 L120.04,131.84 L120.81,131.56 L121.58,131.27 L122.35,130.99 L123.12,130.70 L123.89,130.42 L124.67,130.13 L125.44,129.85 L126.21,129.56 L126.98,129.27 L127.75,128.98 L128.52,128.69 L129.29,128.40 L130.07,128.11 L130.84,127.82 L131.61,127.53 L132.38,127.24 L133.15,126.94 L133.92,126.65 L134.70,126.35 L135.47,126.06 L136.24,125.76 L137.01,125.46 L137.78,125.16 L138.55,124.86 L139.32,124.57 L140.10,124.27 L140.87,123.97 L141.64,123.66 L142.41,123.36 L143.18,123.06 L143.95,122.76 L144.73,122.45 L145.50,122.15 L146.27,121.85 L147.04,121.54 L147.81,121.23 L148.58,120.92 L149.35,120.62 L150.13,120.31 L150.90,119.99 L151.67,119.68 L152.44,119.37 L153.21,119.05 L153.98,118.73 L154.75,118.41 L155.53,118.09 L156.30,117.77 L157.07,117.44 L157.84,117.12 L158.61,116.79 L159.38,116.46 L160.16,116.13 L160.93,115.79 L161.70,115.46 L162.47,115.12 L163.24,114.78 L164.01,114.44 L164.78,114.10 L165.56,113.75 L166.33,113.40 L167.10,113.06 L167.87,112.71 L168.64,112.36 L169.41,112.01 L170.18,111.67 L170.96,111.32 L171.73,110.98 L172.50,110.64 L173.27,110.29 L174.04,109.95 L174.81,109.60 L175.59,109.26 L176.36,108.91 L177.13,108.56 L177.90,108.22 L178.67,107.87 L179.44,107.52 L180.21,107.17 L180.99,106.82 L181.76,106.47 L182.53,106.12 L183.30,105.76 L184.07,105.40 L184.84,105.05 L185.61,104.69 L186.39,104.33 L187.16,103.96 L187.93,103.60 L188.70,103.23 L189.47,102.86 L190.24,102.49 L191.02,102.11 L191.79,101.73 L192.56,101.36 L193.33,100.98 L194.10,100.60 L194.87,100.22 L195.64,99.85 L196.42,99.47 L197.19,99.10 L197.96,98.74 L198.73,98.38 L199.50,98.02 L200.27,97.66 L201.04,97.30 L201.82,96.95 L202.59,96.59 L203.36,96.24 L204.13,95.88 L204.90,95.52 L205.67,95.15 L206.45,94.78 L207.22,94.40 L207.99,94.02 L208.76,93.63 L209.53,93.23 L210.30,92.83 L211.07,92.42 L211.85,92.02 L212.62,91.62 L213.39,91.21 L214.16,90.79 L214.93,90.37 L215.70,89.93 L216.48,89.41 L217.25,88.86 L218.02,88.29 L218.79,87.70 L219.56,87.09 L220.33,86.46 L221.10,85.81 L221.88,85.15 L222.65,84.47 L223.42,83.76 L224.19,83.01 L224.96,82.23 L225.73,81.41 L226.50,80.56 L227.28,79.68 L228.05,78.77 L228.82,77.83 L229.59,76.83 L230.36,75.77 L231.13,74.66 L231.91,73.48 L232.68,72.25 L233.45,70.97 L234.22,69.63 L234.99,68.22 L235.76,66.75 L236.53,65.23 L237.31,63.67 L238.08,62.08 L238.85,60.45 L239.62,58.76 L240.39,57.04 L241.16,55.35 L241.93,53.68 L242.71,52.06 L243.48,50.49 L244.25,48.94 L245.02,47.37 L245.79,45.77 L246.56,44.14 L247.34,42.48 L248.11,40.79 L248.88,39.10 L249.65,37.46 L250.42,35.87 L251.19,34.35 L251.96,32.85 L252.74,31.35 L253.51,29.90 L254.28,28.54 L255.05,27.28 L255.82,26.16 L256.59,25.07 L257.36,24.02 L258.14,23.05 L258.91,22.17 L259.68,21.42 L260.45,20.83 L261.22,20.37 L261.99,19.93 L262.77,19.54 L263.54,19.24 L264.31,19.04 L265.08,19.00 L265.85,19.10 L266.62,19.33 L267.39,19.65 L268.17,20.03 L268.94,20.45 L269.71,20.87 L270.48,21.37 L271.25,21.98 L272.02,22.67 L272.79,23.43 L273.57,24.24 L274.34,25.10 L275.11,25.97 L275.88,26.86 L276.65,27.80 L277.42,28.81 L278.20,29.89 L278.97,31.02 L279.74,32.19 L280.51,33.39 L281.28,34.61 L282.05,35.84 L282.82,37.07 L283.60,38.29 L284.37,39.48 L285.14,40.65 L285.91,41.85 L286.68,43.08 L287.45,44.32 L288.23,45.57 L289.00,46.81 L289.77,48.03 L290.54,49.23 L291.31,50.38 L292.08,51.49 L292.85,52.54 L293.63,53.53 L294.40,54.50 L295.17,55.45 L295.94,56.39 L296.71,57.30 L297.48,58.19 L298.25,59.07 L299.03,59.93 L299.80,60.78 L300.57,61.61 L301.34,62.42 L302.11,63.23 L302.88,64.01 L303.66,64.79 L304.43,65.55 L305.20,66.30 L305.97,67.04 L306.74,67.77 L307.51,68.49 L308.28,69.20 L309.06,69.91 L309.83,70.62 L310.60,71.33 L311.37,72.04 L312.14,72.74 L312.91,73.44 L313.68,74.12 L314.46,74.80 L315.23,75.46 L316.00,76.11 L316.77,76.74 L317.54,77.36 L318.31,77.96 L319.09,78.53 L319.86,79.09 L320.63,79.62 L321.40,80.12 L322.17,80.60 L322.94,81.05 L323.71,81.47 L324.49,81.87 L325.26,82.25 L326.03,82.63 L326.80,82.99 L327.57,83.34 L328.34,83.68 L329.11,84.01 L329.89,84.33 L330.66,84.64 L331.43,84.95 L332.20,85.24 L332.97,85.52 L333.74,85.80 L334.52,86.07 L335.29,86.33 L336.06,86.58 L336.83,86.82 L337.60,87.06 L338.37,87.30 L339.14,87.52 L339.92,87.74 L340.69,87.96 L341.46,88.17 L342.23,88.37 L343.00,88.57 L343.77,88.77 L344.54,88.96 L345.32,89.15 L346.09,89.33 L346.86,89.51 L347.63,89.68 L348.40,89.85 L349.17,90.02 L349.95,90.18 L350.72,90.34 L351.49,90.49 L352.26,90.65 L353.03,90.80 L353.80,90.94 L354.57,91.09 L355.35,91.23 L356.12,91.37 L356.89,91.50 L357.66,91.64 L358.43,91.78 L359.20,91.92 L359.97,92.05 L360.75,92.19 L361.52,92.32 L362.29,92.46 L363.06,92.59 L363.83,92.72 L364.60,92.85 L365.38,92.98 L366.15,93.11 L366.92,93.23 L367.69,93.35 L368.46,93.47 L369.23,93.59 L370.00,93.71 L370.78,93.82 L371.55,93.94 L372.32,94.04 L373.09,94.15 L373.86,94.25 L374.63,94.35 L375.41,94.45 L376.18,94.54 L376.95,94.63 L377.72,94.72 L378.49,94.80 L379.26,94.88 L380.03,94.95 L380.81,95.02 L381.58,95.08 L382.35,95.14 L383.12,95.20 L383.89,95.25 L384.66,95.30 L385.43,95.35 L386.21,95.39 L386.98,95.44 L387.75,95.48 L388.52,95.52 L389.29,95.56 L390.06,95.59 L390.84,95.63 L391.61,95.66 L392.38,95.70 L393.15,95.73 L393.92,95.76 L394.69,95.80 L395.46,95.83 L396.24,95.86 L397.01,95.89 L397.78,95.93 L398.55,95.96 L399.32,95.99 L400.09,96.02 L400.86,96.06 L401.64,96.09 L402.41,96.12 L403.18,96.15 L403.95,96.18 L404.72,96.21 L405.49,96.24 L406.27,96.27 L407.04,96.30 L407.81,96.33 L408.58,96.36 L409.35,96.39 L410.12,96.42 L410.89,96.45 L411.67,96.48 L412.44,96.51 L413.21,96.53 L413.98,96.56 L414.75,96.59 L415.52,96.62 L416.29,96.64 L417.07,96.67 L417.84,96.70 L418.61,96.72 L419.38,96.75 L420.15,96.78 L420.92,96.80 L421.70,96.83 L422.47,96.85 L423.24,96.88 L424.01,96.90 L424.78,96.93 L425.55,96.95 L426.32,96.97 L427.10,97.00 L427.87,97.02 L428.64,97.04 L429.41,97.07 L430.18,97.09 L430.95,97.11 L431.72,97.13 L432.50,97.15 L433.27,97.17 L434.04,97.19 L434.81,97.21 L435.58,97.23 L436.35,97.25 L437.13,97.27 L437.90,97.29 L438.67,97.31 L439.44,97.33 L440.21,97.35 L440.98,97.36 L441.75,97.38 L442.53,97.40 L443.30,97.41 L444.07,97.43 L444.84,97.44 L445.61,97.46 L446.38,97.47 L447.16,97.49 L447.93,97.50 L448.70,97.52 L449.47,97.53 L450.24,97.54 L451.01,97.56 L451.78,97.57 L452.56,97.59 L453.33,97.60 L454.10,97.61 L454.87,97.63" stroke="#0000ff" stroke-width="1.25" fill="none" stroke-dasharray="1.32,1.98"/>
<path d="M54.46,156.96 L55.23,156.73 L56.00,156.50 L56.77,156.28 L57.55,156.05 L58.32,155.83 L59.09,155.60 L59.86,155.37 L60.63,155.15 L61.40,154.92 L62.17,154.70 L62.95,154.47 L63.72,154.24 L64.49,154.02 L65.26,153.79 L66.03,153.56 L66.80,153.34 L67.57,153.11 L68.35,152.88 L69.12,152.66 L69.89,152.43 L70.66,152.20 L71.43,151.97 L72.20,151.75 L72.98,151.52 L73.75,151.29 L74.52,151.06 L75.29,150.83 L76.06,150.61 L76.83,150.38 L77.60,150.15 L78.38,149.92 L79.15,149.69 L79.92,149.46 L80.69,149.24 L81.46,149.01 L82.23,148.78 L83.00,148.55 L83.78,148.32 L84.55,148.09 L85.32,147.86 L86.09,147.63 L86.86,147.40 L87.63,147.17 L88.41,146.94 L89.18,146.71 L89.95,146.48 L90.72,146.25 L91.49,146.02 L92.26,145.78 L93.03,145.55 L93.81,145.32 L94.58,145.09 L95.35,144.86 L96.12,144.62 L96.89,144.39 L97.66,144.16 L98.43,143.93 L99.21,143.69 L99.98,143.46 L100.75,143.23 L101.52,142.99 L102.29,142.76 L103.06,142.52 L103.84,142.29 L104.61,142.05 L105.38,141.82 L106.15,141.58 L106.92,141.35 L107.69,141.11 L108.46,140.87 L109.24,140.64 L110.01,140.40 L110.78,140.16 L111.55,139.93 L112.32,139.69 L113.09,139.45 L113.86,139.21 L114.64,138.97 L115.41,138.73 L116.18,138.49 L116.95,138.25 L117.72,138.01 L118.49,137.77 L119.27,137.53 L120.04,137.29 L120.81,137.05 L121.58,136.80 L122.35,136.56 L123.12,136.32 L123.89,136.07 L124.67,135.83 L125.44,135.58 L126.21,135.34 L126.98,135.09 L127.75,134.85 L128.52,134.60 L129.29,134.35 L130.07,134.10 L130.84,133.83 L131.61,133.56 L132.38,133.29 L133.15,133.02 L133.92,132.75 L134.70,132.48 L135.47,132.21 L136.24,131.93 L137.01,131.66 L137.78,131.39 L138.55,131.11 L139.32,130.84 L140.10,130.56 L140.87,130.28 L141.64,130.01 L142.41,129.73 L143.18,129.45 L143.95,129.17 L144.73,128.89 L145.50,128.61 L146.27,128.33 L147.04,128.05 L147.81,127.77 L148.58,127.49 L149.35,127.20 L150.13,126.92 L150.90,126.63 L151.67,126.35 L152.44,126.06 L153.21,125.77 L153.98,125.49 L154.75,125.20 L155.53,124.91 L156.30,124.62 L157.07,124.33 L157.84,124.04 L158.61,123.75 L159.38,123.45 L160.16,123.16 L160.93,122.86 L161.70,122.57 L162.47,122.27 L163.24,121.97 L164.01,121.67 L164.78,121.36 L165.56,121.06 L166.33,120.76 L167.10,120.45 L167.87,120.14 L168.64,119.84 L169.41,119.53 L170.18,119.22 L170.96,118.92 L171.73,118.61 L172.50,118.30 L173.27,117.99 L174.04,117.69 L174.81,117.38 L175.59,117.07 L176.36,116.77 L177.13,116.46 L177.90,116.16 L178.67,115.86 L179.44,115.56 L180.21,115.26 L180.99,114.96 L181.76,114.66 L182.53,114.35 L183.30,114.05 L184.07,113.75 L184.84,113.44 L185.61,113.13 L186.39,112.82 L187.16,112.51 L187.93,112.20 L188.70,111.88 L189.47,111.57 L190.24,111.25 L191.02,110.93 L191.79,110.61 L192.56,110.29 L193.33,109.98 L194.10,109.66 L194.87,109.34 L195.64,109.02 L196.42,108.70 L197.19,108.38 L197.96,108.06 L198.73,107.73 L199.50,107.41 L200.27,107.09 L201.04,106.76 L201.82,106.43 L202.59,106.10 L203.36,105.77 L204.13,105.44 L204.90,105.11 L205.67,104.77 L206.45,104.43 L207.22,104.09 L207.99,103.75 L208.76,103.41 L209.53,103.07 L210.30,102.72 L211.07,102.37 L211.85,102.02 L212.62,101.66 L213.39,101.31 L214.16,100.95 L214.93,100.59 L215.70,100.24 L216.48,99.88 L217.25,99.52 L218.02,99.16 L218.79,98.80 L219.56,98.45 L220.33,98.09 L221.10,97.74 L221.88,97.39 L222.65,97.03 L223.42,96.67 L224.19,96.31 L224.96,95.95 L225.73,95.59 L226.50,95.22 L227.28,94.85 L228.05,94.47 L228.82,94.09 L229.59,93.70 L230.36,93.31 L231.13,92.91 L231.91,92.49 L232.68,92.08 L233.45,91.66 L234.22,91.24 L234.99,90.81 L235.76,90.38 L236.53,89.94 L237.31,89.50 L238.08,89.04 L238.85,88.50 L239.62,87.94 L240.39,87.36 L241.16,86.75 L241.93,86.13 L242.71,85.48 L243.48,84.82 L244.25,84.14 L245.02,83.45 L245.79,82.73 L246.56,81.97 L247.34,81.18 L248.11,80.36 L248.88,79.50 L249.65,78.61 L250.42,77.69 L251.19,76.74 L251.96,75.73 L252.74,74.67 L253.51,73.55 L254.28,72.37 L255.05,71.14 L255.82,69.86 L256.59,68.52 L257.36,67.10 L258.14,65.63 L258.91,64.12 L259.68,62.56 L260.45,60.97 L261.22,59.35 L261.99,57.66 L262.77,55.97 L263.54,54.33 L264.31,52.72 L265.08,51.18 L265.85,49.69 L266.62,48.23 L267.39,46.75 L268.17,45.23 L268.94,43.68 L269.71,42.09 L270.48,40.45 L271.25,38.80 L272.02,37.20 L272.79,35.65 L273.57,34.17 L274.34,32.70 L275.11,31.23 L275.88,29.81 L276.65,28.46 L277.42,27.23 L278.20,26.12 L278.97,25.03 L279.74,23.99 L280.51,23.01 L281.28,22.14 L282.05,21.39 L282.82,20.81 L283.60,20.35 L284.37,19.91 L285.14,19.52 L285.91,19.22 L286.68,19.03 L287.45,18.99 L288.23,19.09 L289.00,19.31 L289.77,19.61 L290.54,19.98 L291.31,20.38 L292.08,20.78 L292.85,21.25 L293.63,21.82 L294.40,22.47 L295.17,23.20 L295.94,23.97 L296.71,24.79 L297.48,25.63 L298.25,26.49 L299.03,27.37 L299.80,28.33 L300.57,29.34 L301.34,30.41 L302.11,31.53 L302.88,32.68 L303.66,33.85 L304.43,35.04 L305.20,36.23 L305.97,37.42 L306.74,38.60 L307.51,39.75 L308.28,40.89 L309.06,42.06 L309.83,43.25 L310.60,44.46 L311.37,45.67 L312.14,46.87 L312.91,48.05 L313.68,49.21 L314.46,50.34 L315.23,51.42 L316.00,52.44 L316.77,53.41 L317.54,54.35 L318.31,55.27 L319.09,56.18 L319.86,57.07 L320.63,57.94 L321.40,58.80 L322.17,59.64 L322.94,60.47 L323.71,61.28 L324.49,62.08 L325.26,62.86 L326.03,63.63 L326.80,64.39 L327.57,65.13 L328.34,65.87 L329.11,66.59 L329.89,67.30 L330.66,68.01 L331.43,68.70 L332.20,69.39 L332.97,70.08 L333.74,70.77 L334.52,71.46 L335.29,72.15 L336.06,72.83 L336.83,73.50 L337.60,74.16 L338.37,74.82 L339.14,75.46 L339.92,76.09 L340.69,76.70 L341.46,77.30 L342.23,77.88 L343.00,78.45 L343.77,78.99 L344.54,79.51 L345.32,80.00 L346.09,80.47 L346.86,80.92 L347.63,81.33 L348.40,81.72 L349.17,82.10 L349.95,82.47 L350.72,82.83 L351.49,83.17 L352.26,83.51 L353.03,83.83 L353.80,84.15 L354.57,84.46 L355.35,84.76 L356.12,85.05 L356.89,85.33 L357.66,85.60 L358.43,85.87 L359.20,86.12 L359.97,86.37 L360.75,86.62 L361.52,86.86 L362.29,87.09 L363.06,87.31 L363.83,87.53 L364.60,87.74 L365.38,87.95 L366.15,88.16 L366.92,88.36 L367.69,88.55 L368.46,88.74 L369.23,88.93 L370.00,89.11 L370.78,89.29 L371.55,89.46 L372.32,89.63 L373.09,89.80 L373.86,89.96 L374.63,90.12 L375.41,90.27 L376.18,90.43 L376.95,90.57 L377.72,90.72 L378.49,90.86 L379.26,91.01 L380.03,91.14 L380.81,91.28 L381.58,91.41 L382.35,91.55 L383.12,91.68 L383.89,91.81 L384.66,91.95 L385.43,92.08 L386.21,92.21 L386.98,92.34 L387.75,92.47 L388.52,92.60 L389.29,92.73 L390.06,92.85 L390.84,92.98 L391.61,93.10 L392.38,93.22 L393.15,93.34 L393.92,93.46 L394.69,93.57 L395.46,93.69 L396.24,93.80 L397.01,93.91 L397.78,94.01 L398.55,94.12 L399.32,94.22 L400.09,94.32 L400.86,94.41 L401.64,94.50 L402.41,94.59 L403.18,94.67 L403.95,94.76 L404.72,94.83 L405.49,94.91 L406.27,94.98 L407.04,95.04 L407.81,95.10 L408.58,95.16 L409.35,95.21 L410.12,95.26 L410.89,95.31 L411.67,95.36 L412.44,95.40 L413.21,95.44 L413.98,95.48 L414.75,95.52 L415.52,95.56 L416.29,95.59 L417.07,95.63 L417.84,95.66 L418.61,95.69 L419.38,95.73 L420.15,95.76 L420.92,95.79 L421.70,95.82 L422.47,95.85 L423.24,95.89 L424.01,95.92 L424.78,95.95 L425.55,95.98 L426.32,96.01 L427.10,96.04 L427.87,96.07 L428.64,96.10 L429.41,96.13 L430.18,96.16 L430.95,96.19 L431.72,96.22 L432.50,96.25 L433.27,96.28 L434.04,96.31 L434.81,96.34 L435.58,96.37 L436.35,96.40 L437.13,96.42 L437.90,96.45 L438.67,96.48 L439.44,96.51 L440.21,96.54 L440.98,96.56 L441.75,96.59 L442.53,96.62 L443.30,96.64 L444.07,96.67 L444.84,96.69 L445.61,96.72 L446.38,96.75 L447.16,96.77 L447.93,96.80 L448.70,96.82 L449.47,96.85 L450.24,96.87 L451.01,96.89 L451.78,96.92 L452.56,96.94 L453.33,96.96 L454.10,96.99 L454.87,97.01" stroke="#ff00ff" stroke-width="1.2" fill="none" stroke-opacity="0.28"/><path d="M54.46,156.96 L55.23,156.73 L56.00,156.50 L56.77,156.28 L57.55,156.05 L58.32,155.83 L59.09,155.60 L59.86,155.37 L60.63,155.15 L61.40,154.92 L62.17,154.70 L62.95,154.47 L63.72,154.24 L64.49,154.02 L65.26,153.79 L66.03,153.56 L66.80,153.34 L67.57,153.11 L68.35,152.88 L69.12,152.66 L69.89,152.43 L70.66,152.20 L71.43,151.97 L72.20,151.75 L72.98,151.52 L73.75,151.29 L74.52,151.06 L75.29,150.83 L76.06,150.61 L76.83,150.38 L77.60,150.15 L78.38,149.92 L79.15,149.69 L79.92,149.46 L80.69,149.24 L81.46,149.01 L82.23,148.78 L83.00,148.55 L83.78,148.32 L84.55,148.09 L85.32,147.86 L86.09,147.63 L86.86,147.40 L87.63,147.17 L88.41,146.94 L89.18,146.71 L89.95,146.48 L90.72,146.25 L91.49,146.02 L92.26,145.78 L93.03,145.55 L93.81,145.32 L94.58,145.09 L95.35,144.86 L96.12,144.62 L96.89,144.39 L97.66,144.16 L98.43,143.93 L99.21,143.69 L99.98,143.46 L100.75,143.23 L101.52,142.99 L102.29,142.76 L103.06,142.52 L103.84,142.29 L104.61,142.05 L105.38,141.82 L106.15,141.58 L106.92,141.35 L107.69,141.11 L108.46,140.87 L109.24,140.64 L110.01,140.40 L110.78,140.16 L111.55,139.93 L112.32,139.69 L113.09,139.45 L113.86,139.21 L114.64,138.97 L115.41,138.73 L116.18,138.49 L116.95,138.25 L117.72,138.01 L118.49,137.77 L119.27,137.53 L120.04,137.29 L120.81,137.05 L121.58,136.80 L122.35,136.56 L123.12,136.32 L123.89,136.07 L124.67,135.83 L125.44,135.58 L126.21,135.34 L126.98,135.09 L127.75,134.85 L128.52,134.60 L129.29,134.35 L130.07,134.10 L130.84,133.83 L131.61,133.56 L132.38,133.29 L133.15,133.02 L133.92,132.75 L134.70,132.48 L135.47,132.21 L136.24,131.93 L137.01,131.66 L137.78,131.39 L138.55,131.11 L139.32,130.84 L140.10,130.56 L140.87,130.28 L141.64,130.01 L142.41,129.73 L143.18,129.45 L143.95,129.17 L144.73,128.89 L145.50,128.61 L146.27,128.33 L147.04,128.05 L147.81,127.77 L148.58,127.49 L149.35,127.20 L150.13,126.92 L150.90,126.63 L151.67,126.35 L152.44,126.06 L153.21,125.77 L153.98,125.49 L154.75,125.20 L155.53,124.91 L156.30,124.62 L157.07,124.33 L157.84,124.04 L158.61,123.75 L159.38,123.45 L160.16,123.16 L160.93,122.86 L161.70,122.57 L162.47,122.27 L163.24,121.97 L164.01,121.67 L164.78,121.36 L165.56,121.06 L166.33,120.76 L167.10,120.45 L167.87,120.14 L168.64,119.84 L169.41,119.53 L170.18,119.22 L170.96,118.92 L171.73,118.61 L172.50,118.30 L173.27,117.99 L174.04,117.69 L174.81,117.38 L175.59,117.07 L176.36,116.77 L177.13,116.46 L177.90,116.16 L178.67,115.86 L179.44,115.56 L180.21,115.26 L180.99,114.96 L181.76,114.66 L182.53,114.35 L183.30,114.05 L184.07,113.75 L184.84,113.44 L185.61,113.13 L186.39,112.82 L187.16,112.51 L187.93,112.20 L188.70,111.88 L189.47,111.57 L190.24,111.25 L191.02,110.93 L191.79,110.61 L192.56,110.29 L193.33,109.98 L194.10,109.66 L194.87,109.34 L195.64,109.02 L196.42,108.70 L197.19,108.38 L197.96,108.06 L198.73,107.73 L199.50,107.41 L200.27,107.09 L201.04,106.76 L201.82,106.43 L202.59,106.10 L203.36,105.77 L204.13,105.44 L204.90,105.11 L205.67,104.77 L206.45,104.43 L207.22,104.09 L207.99,103.75 L208.76,103.41 L209.53,103.07 L210.30,102.72 L211.07,102.37 L211.85,102.02 L212.62,101.66 L213.39,101.31 L214.16,100.95 L214.93,100.59 L215.70,100.24 L216.48,99.88 L217.25,99.52 L218.02,99.16 L218.79,98.80 L219.56,98.45 L220.33,98.09 L221.10,97.74 L221.88,97.39 L222.65,97.03 L223.42,96.67 L224.19,96.31 L224.96,95.95 L225.73,95.59 L226.50,95.22 L227.28,94.85 L228.05,94.47 L228.82,94.09 L229.59,93.70 L230.36,93.31 L231.13,92.91 L231.91,92.49 L232.68,92.08 L233.45,91.66 L234.22,91.24 L234.99,90.81 L235.76,90.38 L236.53,89.94 L237.31,89.50 L238.08,89.04 L238.85,88.50 L239.62,87.94 L240.39,87.36 L241.16,86.75 L241.93,86.13 L242.71,85.48 L243.48,84.82 L244.25,84.14 L245.02,83.45 L245.79,82.73 L246.56,81.97 L247.34,81.18 L248.11,80.36 L248.88,79.50 L249.65,78.61 L250.42,77.69 L251.19,76.74 L251.96,75.73 L252.74,74.67 L253.51,73.55 L254.28,72.37 L255.05,71.14 L255.82,69.86 L256.59,68.52 L257.36,67.10 L258.14,65.63 L258.91,64.12 L259.68,62.56 L260.45,60.97 L261.22,59.35 L261.99,57.66 L262.77,55.97 L263.54,54.33 L264.31,52.72 L265.08,51.18 L265.85,49.69 L266.62,48.23 L267.39,46.75 L268.17,45.23 L268.94,43.68 L269.71,42.09 L270.48,40.45 L271.25,38.80 L272.02,37.20 L272.79,35.65 L273.57,34.17 L274.34,32.70 L275.11,31.23 L275.88,29.81 L276.65,28.46 L277.42,27.23 L278.20,26.12 L278.97,25.03 L279.74,23.99 L280.51,23.01 L281.28,22.14 L282.05,21.39 L282.82,20.81 L283.60,20.35 L284.37,19.91 L285.14,19.52 L285.91,19.22 L286.68,19.03 L287.45,18.99 L288.23,19.09 L289.00,19.31 L289.77,19.61 L290.54,19.98 L291.31,20.38 L292.08,20.78 L292.85,21.25 L293.63,21.82 L294.40,22.47 L295.17,23.20 L295.94,23.97 L296.71,24.79 L297.48,25.63 L298.25,26.49 L299.03,27.37 L299.80,28.33 L300.57,29.34 L301.34,30.41 L302.11,31.53 L302.88,32.68 L303.66,33.85 L304.43,35.04 L305.20,36.23 L305.97,37.42 L306.74,38.60 L307.51,39.75 L308.28,40.89 L309.06,42.06 L309.83,43.25 L310.60,44.46 L311.37,45.67 L312.14,46.87 L312.91,48.05 L313.68,49.21 L314.46,50.34 L315.23,51.42 L316.00,52.44 L316.77,53.41 L317.54,54.35 L318.31,55.27 L319.09,56.18 L319.86,57.07 L320.63,57.94 L321.40,58.80 L322.17,59.64 L322.94,60.47 L323.71,61.28 L324.49,62.08 L325.26,62.86 L326.03,63.63 L326.80,64.39 L327.57,65.13 L328.34,65.87 L329.11,66.59 L329.89,67.30 L330.66,68.01 L331.43,68.70 L332.20,69.39 L332.97,70.08 L333.74,70.77 L334.52,71.46 L335.29,72.15 L336.06,72.83 L336.83,73.50 L337.60,74.16 L338.37,74.82 L339.14,75.46 L339.92,76.09 L340.69,76.70 L341.46,77.30 L342.23,77.88 L343.00,78.45 L343.77,78.99 L344.54,79.51 L345.32,80.00 L346.09,80.47 L346.86,80.92 L347.63,81.33 L348.40,81.72 L349.17,82.10 L349.95,82.47 L350.72,82.83 L351.49,83.17 L352.26,83.51 L353.03,83.83 L353.80,84.15 L354.57,84.46 L355.35,84.76 L356.12,85.05 L356.89,85.33 L357.66,85.60 L358.43,85.87 L359.20,86.12 L359.97,86.37 L360.75,86.62 L361.52,86.86 L362.29,87.09 L363.06,87.31 L363.83,87.53 L364.60,87.74 L365.38,87.95 L366.15,88.16 L366.92,88.36 L367.69,88.55 L368.46,88.74 L369.23,88.93 L370.00,89.11 L370.78,89.29 L371.55,89.46 L372.32,89.63 L373.09,89.80 L373.86,89.96 L374.63,90.12 L375.41,90.27 L376.18,90.43 L376.95,90.57 L377.72,90.72 L378.49,90.86 L379.26,91.01 L380.03,91.14 L380.81,91.28 L381.58,91.41 L382.35,91.55 L383.12,91.68 L383.89,91.81 L384.66,91.95 L385.43,92.08 L386.21,92.21 L386.98,92.34 L387.75,92.47 L388.52,92.60 L389.29,92.73 L390.06,92.85 L390.84,92.98 L391.61,93.10 L392.38,93.22 L393.15,93.34 L393.92,93.46 L394.69,93.57 L395.46,93.69 L396.24,93.80 L397.01,93.91 L397.78,94.01 L398.55,94.12 L399.32,94.22 L400.09,94.32 L400.86,94.41 L401.64,94.50 L402.41,94.59 L403.18,94.67 L403.95,94.76 L404.72,94.83 L405.49,94.91 L406.27,94.98 L407.04,95.04 L407.81,95.10 L408.58,95.16 L409.35,95.21 L410.12,95.26 L410.89,95.31 L411.67,95.36 L412.44,95.40 L413.21,95.44 L413.98,95.48 L414.75,95.52 L415.52,95.56 L416.29,95.59 L417.07,95.63 L417.84,95.66 L418.61,95.69 L419.38,95.73 L420.15,95.76 L420.92,95.79 L421.70,95.82 L422.47,95.85 L423.24,95.89 L424.01,95.92 L424.78,95.95 L425.55,95.98 L426.32,96.01 L427.10,96.04 L427.87,96.07 L428.64,96.10 L429.41,96.13 L430.18,96.16 L430.95,96.19 L431.72,96.22 L432.50,96.25 L433.27,96.28 L434.04,96.31 L434.81,96.34 L435.58,96.37 L436.35,96.40 L437.13,96.42 L437.90,96.45 L438.67,96.48 L439.44,96.51 L440.21,96.54 L440.98,96.56 L441.75,96.59 L442.53,96.62 L443.30,96.64 L444.07,96.67 L444.84,96.69 L445.61,96.72 L446.38,96.75 L447.16,96.77 L447.93,96.80 L448.70,96.82 L449.47,96.85 L450.24,96.87 L451.01,96.89 L451.78,96.92 L452.56,96.94 L453.33,96.96 L454.10,96.99 L454.87,97.01" stroke="#ff00ff" stroke-width="1.25" fill="none" stroke-dasharray="1.0,1.7"/>
<path d="M54.46,162.34 L55.23,162.11 L56.00,161.87 L56.77,161.64 L57.55,161.41 L58.32,161.17 L59.09,160.94 L59.86,160.71 L60.63,160.47 L61.40,160.24 L62.17,160.01 L62.95,159.77 L63.72,159.54 L64.49,159.31 L65.26,159.08 L66.03,158.84 L66.80,158.61 L67.57,158.38 L68.35,158.14 L69.12,157.91 L69.89,157.68 L70.66,157.44 L71.43,157.21 L72.20,156.97 L72.98,156.74 L73.75,156.51 L74.52,156.27 L75.29,156.04 L76.06,155.81 L76.83,155.57 L77.60,155.34 L78.38,155.10 L79.15,154.87 L79.92,154.64 L80.69,154.40 L81.46,154.17 L82.23,153.93 L83.00,153.70 L83.78,153.46 L84.55,153.23 L85.32,153.00 L86.09,152.76 L86.86,152.53 L87.63,152.29 L88.41,152.06 L89.18,151.82 L89.95,151.59 L90.72,151.35 L91.49,151.12 L92.26,150.88 L93.03,150.65 L93.81,150.41 L94.58,150.18 L95.35,149.94 L96.12,149.71 L96.89,149.47 L97.66,149.23 L98.43,149.00 L99.21,148.76 L99.98,148.53 L100.75,148.29 L101.52,148.05 L102.29,147.82 L103.06,147.58 L103.84,147.35 L104.61,147.11 L105.38,146.87 L106.15,146.64 L106.92,146.40 L107.69,146.16 L108.46,145.92 L109.24,145.69 L110.01,145.45 L110.78,145.21 L111.55,144.97 L112.32,144.74 L113.09,144.50 L113.86,144.26 L114.64,144.02 L115.41,143.78 L116.18,143.55 L116.95,143.31 L117.72,143.07 L118.49,142.83 L119.27,142.59 L120.04,142.35 L120.81,142.11 L121.58,141.87 L122.35,141.63 L123.12,141.39 L123.89,141.15 L124.67,140.91 L125.44,140.67 L126.21,140.43 L126.98,140.19 L127.75,139.95 L128.52,139.70 L129.29,139.46 L130.07,139.22 L130.84,138.98 L131.61,138.74 L132.38,138.49 L133.15,138.25 L133.92,138.01 L134.70,137.76 L135.47,137.52 L136.24,137.28 L137.01,137.03 L137.78,136.79 L138.55,136.54 L139.32,136.30 L140.10,136.05 L140.87,135.81 L141.64,135.56 L142.41,135.32 L143.18,135.07 L143.95,134.82 L144.73,134.57 L145.50,134.33 L146.27,134.08 L147.04,133.83 L147.81,133.58 L148.58,133.33 L149.35,133.08 L150.13,132.83 L150.90,132.56 L151.67,132.29 L152.44,132.02 L153.21,131.74 L153.98,131.47 L154.75,131.20 L155.53,130.93 L156.30,130.65 L157.07,130.38 L157.84,130.11 L158.61,129.84 L159.38,129.56 L160.16,129.29 L160.93,129.02 L161.70,128.74 L162.47,128.47 L163.24,128.20 L164.01,127.92 L164.78,127.65 L165.56,127.38 L166.33,127.11 L167.10,126.83 L167.87,126.56 L168.64,126.29 L169.41,126.02 L170.18,125.74 L170.96,125.47 L171.73,125.20 L172.50,124.93 L173.27,124.66 L174.04,124.39 L174.81,124.12 L175.59,123.85 L176.36,123.58 L177.13,123.30 L177.90,123.03 L178.67,122.76 L179.44,122.49 L180.21,122.21 L180.99,121.94 L181.76,121.66 L182.53,121.39 L183.30,121.11 L184.07,120.84 L184.84,120.56 L185.61,120.29 L186.39,120.01 L187.16,119.73 L187.93,119.45 L188.70,119.18 L189.47,118.90 L190.24,118.62 L191.02,118.34 L191.79,118.06 L192.56,117.78 L193.33,117.50 L194.10,117.22 L194.87,116.93 L195.64,116.65 L196.42,116.37 L197.19,116.08 L197.96,115.80 L198.73,115.51 L199.50,115.23 L200.27,114.94 L201.04,114.65 L201.82,114.36 L202.59,114.07 L203.36,113.78 L204.13,113.49 L204.90,113.20 L205.67,112.90 L206.45,112.60 L207.22,112.31 L207.99,112.01 L208.76,111.71 L209.53,111.40 L210.30,111.10 L211.07,110.79 L211.85,110.48 L212.62,110.17 L213.39,109.86 L214.16,109.55 L214.93,109.24 L215.70,108.93 L216.48,108.61 L217.25,108.30 L218.02,107.99 L218.79,107.68 L219.56,107.36 L220.33,107.05 L221.10,106.73 L221.88,106.41 L222.65,106.09 L223.42,105.77 L224.19,105.45 L224.96,105.13 L225.73,104.81 L226.50,104.48 L227.28,104.16 L228.05,103.83 L228.82,103.50 L229.59,103.17 L230.36,102.83 L231.13,102.50 L231.91,102.16 L232.68,101.82 L233.45,101.48 L234.22,101.13 L234.99,100.78 L235.76,100.43 L236.53,100.08 L237.31,99.73 L238.08,99.38 L238.85,99.02 L239.62,98.67 L240.39,98.31 L241.16,97.96 L241.93,97.61 L242.71,97.25 L243.48,96.89 L244.25,96.53 L245.02,96.17 L245.79,95.80 L246.56,95.43 L247.34,95.06 L248.11,94.68 L248.88,94.30 L249.65,93.91 L250.42,93.52 L251.19,93.13 L251.96,92.72 L252.74,92.32 L253.51,91.90 L254.28,91.48 L255.05,91.05 L255.82,90.61 L256.59,90.18 L257.36,89.73 L258.14,89.28 L258.91,88.82 L259.68,88.35 L260.45,87.87 L261.22,87.34 L261.99,86.78 L262.77,86.21 L263.54,85.61 L264.31,84.99 L265.08,84.35 L265.85,83.69 L266.62,83.02 L267.39,82.33 L268.17,81.62 L268.94,80.88 L269.71,80.10 L270.48,79.29 L271.25,78.45 L272.02,77.57 L272.79,76.66 L273.57,75.73 L274.34,74.74 L275.11,73.69 L275.88,72.58 L276.65,71.43 L277.42,70.23 L278.20,68.97 L278.97,67.65 L279.74,66.26 L280.51,64.81 L281.28,63.31 L282.05,61.78 L282.82,60.21 L283.60,58.61 L284.37,56.94 L285.14,55.28 L285.91,53.67 L286.68,52.11 L287.45,50.61 L288.23,49.18 L289.00,47.77 L289.77,46.34 L290.54,44.87 L291.31,43.37 L292.08,41.81 L292.85,40.20 L293.63,38.58 L294.40,37.01 L295.17,35.48 L295.94,34.02 L296.71,32.57 L297.48,31.12 L298.25,29.72 L299.03,28.39 L299.80,27.16 L300.57,26.06 L301.34,24.98 L302.11,23.94 L302.88,22.96 L303.66,22.09 L304.43,21.35 L305.20,20.77 L305.97,20.32 L306.74,19.88 L307.51,19.50 L308.28,19.19 L309.06,19.01 L309.83,18.97 L310.60,19.07 L311.37,19.28 L312.14,19.57 L312.91,19.92 L313.68,20.31 L314.46,20.70 L315.23,21.14 L316.00,21.68 L316.77,22.29 L317.54,22.98 L318.31,23.72 L319.09,24.50 L319.86,25.31 L320.63,26.14 L321.40,26.98 L322.17,27.88 L322.94,28.84 L323.71,29.85 L324.49,30.91 L325.26,32.01 L326.03,33.14 L326.80,34.29 L327.57,35.44 L328.34,36.60 L329.11,37.75 L329.89,38.89 L330.66,40.00 L331.43,41.11 L332.20,42.25 L332.97,43.41 L333.74,44.59 L334.52,45.76 L335.29,46.93 L336.06,48.08 L336.83,49.20 L337.60,50.29 L338.37,51.34 L339.14,52.34 L339.92,53.28 L340.69,54.20 L341.46,55.10 L342.23,55.99 L343.00,56.86 L343.77,57.71 L344.54,58.54 L345.32,59.37 L346.09,60.17 L346.86,60.96 L347.63,61.74 L348.40,62.51 L349.17,63.26 L349.95,64.00 L350.72,64.73 L351.49,65.45 L352.26,66.16 L353.03,66.86 L353.80,67.55 L354.57,68.23 L355.35,68.90 L356.12,69.57 L356.89,70.24 L357.66,70.91 L358.43,71.58 L359.20,72.25 L359.97,72.90 L360.75,73.56 L361.52,74.20 L362.29,74.84 L363.06,75.46 L363.83,76.07 L364.60,76.67 L365.38,77.25 L366.15,77.82 L366.92,78.37 L367.69,78.90 L368.46,79.40 L369.23,79.89 L370.00,80.35 L370.78,80.79 L371.55,81.20 L372.32,81.59 L373.09,81.96 L373.86,82.32 L374.63,82.67 L375.41,83.01 L376.18,83.34 L376.95,83.66 L377.72,83.98 L378.49,84.28 L379.26,84.57 L380.03,84.86 L380.81,85.14 L381.58,85.41 L382.35,85.67 L383.12,85.93 L383.89,86.18 L384.66,86.42 L385.43,86.66 L386.21,86.88 L386.98,87.11 L387.75,87.33 L388.52,87.54 L389.29,87.75 L390.06,87.95 L390.84,88.15 L391.61,88.34 L392.38,88.53 L393.15,88.72 L393.92,88.90 L394.69,89.07 L395.46,89.25 L396.24,89.42 L397.01,89.58 L397.78,89.74 L398.55,89.90 L399.32,90.06 L400.09,90.21 L400.86,90.36 L401.64,90.51 L402.41,90.65 L403.18,90.79 L403.95,90.93 L404.72,91.07 L405.49,91.20 L406.27,91.33 L407.04,91.46 L407.81,91.59 L408.58,91.72 L409.35,91.85 L410.12,91.98 L410.89,92.10 L411.67,92.23 L412.44,92.36 L413.21,92.48 L413.98,92.61 L414.75,92.73 L415.52,92.85 L416.29,92.98 L417.07,93.10 L417.84,93.21 L418.61,93.33 L419.38,93.44 L420.15,93.56 L420.92,93.67 L421.70,93.78 L422.47,93.88 L423.24,93.99 L424.01,94.09 L424.78,94.19 L425.55,94.28 L426.32,94.37 L427.10,94.46 L427.87,94.55 L428.64,94.63 L429.41,94.72 L430.18,94.79 L430.95,94.87 L431.72,94.94 L432.50,95.00 L433.27,95.06 L434.04,95.12 L434.81,95.18 L435.58,95.23 L436.35,95.28 L437.13,95.32 L437.90,95.37 L438.67,95.41 L439.44,95.45 L440.21,95.49 L440.98,95.52 L441.75,95.56 L442.53,95.59 L443.30,95.63 L444.07,95.66 L444.84,95.69 L445.61,95.72 L446.38,95.75 L447.16,95.79 L447.93,95.82 L448.70,95.85 L449.47,95.88 L450.24,95.91 L451.01,95.94 L451.78,95.97 L452.56,96.00 L453.33,96.03 L454.10,96.06 L454.87,96.09" stroke="#00ffff" stroke-width="1.25" fill="none" stroke-dasharray="3.30,1.32,0.66,1.32"/>
<path d="M54.46,167.89 L55.23,167.66 L56.00,167.43 L56.77,167.20 L57.55,166.97 L58.32,166.73 L59.09,166.50 L59.86,166.27 L60.63,166.04 L61.40,165.80 L62.17,165.57 L62.95,165.34 L63.72,165.11 L64.49,164.87 L65.26,164.64 L66.03,164.41 L66.80,164.18 L67.57,163.95 L68.35,163.71 L69.12,163.48 L69.89,163.25 L70.66,163.02 L71.43,162.78 L72.20,162.55 L72.98,162.32 L73.75,162.09 L74.52,161.85 L75.29,161.62 L76.06,161.39 L76.83,161.15 L77.60,160.92 L78.38,160.69 L79.15,160.46 L79.92,160.22 L80.69,159.99 L81.46,159.76 L82.23,159.53 L83.00,159.29 L83.78,159.06 L84.55,158.83 L85.32,158.59 L86.09,158.36 L86.86,158.13 L87.63,157.90 L88.41,157.66 L89.18,157.43 L89.95,157.20 L90.72,156.96 L91.49,156.73 L92.26,156.50 L93.03,156.26 L93.81,156.03 L94.58,155.80 L95.35,155.56 L96.12,155.33 L96.89,155.10 L97.66,154.86 L98.43,154.63 L99.21,154.40 L99.98,154.16 L100.75,153.93 L101.52,153.70 L102.29,153.46 L103.06,153.23 L103.84,152.99 L104.61,152.76 L105.38,152.53 L106.15,152.29 L106.92,152.06 L107.69,151.83 L108.46,151.59 L109.24,151.36 L110.01,151.12 L110.78,150.89 L111.55,150.65 L112.32,150.42 L113.09,150.19 L113.86,149.95 L114.64,149.72 L115.41,149.48 L116.18,149.25 L116.95,149.01 L117.72,148.78 L118.49,148.54 L119.27,148.31 L120.04,148.07 L120.81,147.84 L121.58,147.60 L122.35,147.37 L123.12,147.13 L123.89,146.90 L124.67,146.66 L125.44,146.43 L126.21,146.19 L126.98,145.95 L127.75,145.72 L128.52,145.48 L129.29,145.25 L130.07,145.01 L130.84,144.77 L131.61,144.54 L132.38,144.30 L133.15,144.07 L133.92,143.83 L134.70,143.59 L135.47,143.36 L136.24,143.12 L137.01,142.88 L137.78,142.64 L138.55,142.41 L139.32,142.17 L140.10,141.93 L140.87,141.69 L141.64,141.46 L142.41,141.22 L143.18,140.98 L143.95,140.74 L144.73,140.50 L145.50,140.26 L146.27,140.03 L147.04,139.79 L147.81,139.55 L148.58,139.31 L149.35,139.07 L150.13,138.83 L150.90,138.59 L151.67,138.35 L152.44,138.11 L153.21,137.87 L153.98,137.63 L154.75,137.39 L155.53,137.15 L156.30,136.91 L157.07,136.66 L157.84,136.42 L158.61,136.18 L159.38,135.94 L160.16,135.70 L160.93,135.46 L161.70,135.21 L162.47,134.97 L163.24,134.73 L164.01,134.48 L164.78,134.24 L165.56,134.00 L166.33,133.75 L167.10,133.51 L167.87,133.26 L168.64,133.02 L169.41,132.77 L170.18,132.53 L170.96,132.28 L171.73,132.03 L172.50,131.79 L173.27,131.54 L174.04,131.29 L174.81,131.05 L175.59,130.80 L176.36,130.55 L177.13,130.30 L177.90,130.05 L178.67,129.80 L179.44,129.55 L180.21,129.31 L180.99,129.05 L181.76,128.80 L182.53,128.55 L183.30,128.30 L184.07,128.05 L184.84,127.80 L185.61,127.55 L186.39,127.29 L187.16,127.04 L187.93,126.79 L188.70,126.53 L189.47,126.28 L190.24,126.01 L191.02,125.71 L191.79,125.41 L192.56,125.11 L193.33,124.81 L194.10,124.51 L194.87,124.21 L195.64,123.91 L196.42,123.62 L197.19,123.32 L197.96,123.02 L198.73,122.73 L199.50,122.43 L200.27,122.13 L201.04,121.84 L201.82,121.54 L202.59,121.25 L203.36,120.96 L204.13,120.66 L204.90,120.37 L205.67,120.08 L206.45,119.79 L207.22,119.50 L207.99,119.21 L208.76,118.92 L209.53,118.63 L210.30,118.35 L211.07,118.06 L211.85,117.78 L212.62,117.49 L213.39,117.21 L214.16,116.92 L214.93,116.64 L215.70,116.36 L216.48,116.08 L217.25,115.80 L218.02,115.52 L218.79,115.25 L219.56,114.97 L220.33,114.69 L221.10,114.42 L221.88,114.14 L222.65,113.87 L223.42,113.59 L224.19,113.32 L224.96,113.04 L225.73,112.77 L226.50,112.49 L227.28,112.21 L228.05,111.94 L228.82,111.66 L229.59,111.38 L230.36,111.10 L231.13,110.82 L231.91,110.54 L232.68,110.25 L233.45,109.97 L234.22,109.68 L234.99,109.40 L235.76,109.11 L236.53,108.82 L237.31,108.53 L238.08,108.24 L238.85,107.96 L239.62,107.67 L240.39,107.38 L241.16,107.09 L241.93,106.79 L242.71,106.50 L243.48,106.21 L244.25,105.91 L245.02,105.61 L245.79,105.31 L246.56,105.01 L247.34,104.71 L248.11,104.41 L248.88,104.10 L249.65,103.80 L250.42,103.49 L251.19,103.17 L251.96,102.86 L252.74,102.55 L253.51,102.23 L254.28,101.91 L255.05,101.59 L255.82,101.26 L256.59,100.94 L257.36,100.61 L258.14,100.28 L258.91,99.95 L259.68,99.61 L260.45,99.28 L261.22,98.94 L261.99,98.60 L262.77,98.27 L263.54,97.93 L264.31,97.59 L265.08,97.25 L265.85,96.90 L266.62,96.55 L267.39,96.19 L268.17,95.82 L268.94,95.45 L269.71,95.08 L270.48,94.70 L271.25,94.31 L272.02,93.92 L272.79,93.53 L273.57,93.12 L274.34,92.71 L275.11,92.30 L275.88,91.86 L276.65,91.41 L277.42,90.95 L278.20,90.49 L278.97,90.02 L279.74,89.54 L280.51,89.06 L281.28,88.56 L282.05,88.05 L282.82,87.53 L283.60,86.99 L284.37,86.42 L285.14,85.83 L285.91,85.22 L286.68,84.59 L287.45,83.93 L288.23,83.26 L289.00,82.58 L289.77,81.88 L290.54,81.16 L291.31,80.40 L292.08,79.62 L292.85,78.79 L293.63,77.94 L294.40,77.05 L295.17,76.14 L295.94,75.19 L296.71,74.19 L297.48,73.13 L298.25,72.02 L299.03,70.87 L299.80,69.67 L300.57,68.41 L301.34,67.09 L302.11,65.70 L302.88,64.25 L303.66,62.75 L304.43,61.21 L305.20,59.65 L305.97,58.05 L306.74,56.39 L307.51,54.74 L308.28,53.15 L309.06,51.62 L309.83,50.16 L310.60,48.77 L311.37,47.41 L312.14,46.02 L312.91,44.59 L313.68,43.13 L314.46,41.60 L315.23,40.02 L316.00,38.42 L316.77,36.86 L317.54,35.36 L318.31,33.91 L319.09,32.48 L319.86,31.05 L320.63,29.66 L321.40,28.34 L322.17,27.12 L322.94,26.03 L323.71,24.95 L324.49,23.91 L325.26,22.94 L326.03,22.07 L326.80,21.33 L327.57,20.75 L328.34,20.30 L329.11,19.86 L329.89,19.48 L330.66,19.18 L331.43,19.00 L332.20,18.96 L332.97,19.06 L333.74,19.26 L334.52,19.54 L335.29,19.88 L336.06,20.25 L336.83,20.64 L337.60,21.05 L338.37,21.55 L339.14,22.13 L339.92,22.78 L340.69,23.49 L341.46,24.24 L342.23,25.02 L343.00,25.82 L343.77,26.63 L344.54,27.47 L345.32,28.38 L346.09,29.34 L346.86,30.35 L347.63,31.40 L348.40,32.48 L349.17,33.58 L349.95,34.70 L350.72,35.83 L351.49,36.95 L352.26,38.07 L353.03,39.16 L353.80,40.24 L354.57,41.33 L355.35,42.44 L356.12,43.57 L356.89,44.71 L357.66,45.85 L358.43,46.98 L359.20,48.10 L359.97,49.19 L360.75,50.25 L361.52,51.28 L362.29,52.25 L363.06,53.17 L363.83,54.07 L364.60,54.94 L365.38,55.81 L366.15,56.65 L366.92,57.49 L367.69,58.30 L368.46,59.10 L369.23,59.89 L370.00,60.67 L370.78,61.43 L371.55,62.18 L372.32,62.92 L373.09,63.64 L373.86,64.36 L374.63,65.06 L375.41,65.76 L376.18,66.44 L376.95,67.12 L377.72,67.78 L378.49,68.44 L379.26,69.09 L380.03,69.74 L380.81,70.40 L381.58,71.05 L382.35,71.69 L383.12,72.34 L383.89,72.98 L384.66,73.61 L385.43,74.24 L386.21,74.85 L386.98,75.46 L387.75,76.05 L388.52,76.63 L389.29,77.20 L390.06,77.75 L390.84,78.29 L391.61,78.81 L392.38,79.31 L393.15,79.78 L393.92,80.24 L394.69,80.67 L395.46,81.08 L396.24,81.46 L397.01,81.82 L397.78,82.18 L398.55,82.52 L399.32,82.86 L400.09,83.18 L400.86,83.50 L401.64,83.81 L402.41,84.11 L403.18,84.40 L403.95,84.68 L404.72,84.96 L405.49,85.23 L406.27,85.49 L407.04,85.74 L407.81,85.99 L408.58,86.23 L409.35,86.46 L410.12,86.69 L410.89,86.91 L411.67,87.13 L412.44,87.34 L413.21,87.55 L413.98,87.75 L414.75,87.95 L415.52,88.14 L416.29,88.33 L417.07,88.51 L417.84,88.69 L418.61,88.87 L419.38,89.04 L420.15,89.21 L420.92,89.38 L421.70,89.54 L422.47,89.70 L423.24,89.85 L424.01,90.00 L424.78,90.15 L425.55,90.30 L426.32,90.44 L427.10,90.58 L427.87,90.72 L428.64,90.86 L429.41,90.99 L430.18,91.12 L430.95,91.25 L431.72,91.38 L432.50,91.50 L433.27,91.63 L434.04,91.75 L434.81,91.88 L435.58,92.00 L436.35,92.13 L437.13,92.25 L437.90,92.37 L438.67,92.50 L439.44,92.62 L440.21,92.74 L440.98,92.86 L441.75,92.97 L442.53,93.09 L443.30,93.21 L444.07,93.32 L444.84,93.43 L445.61,93.54 L446.38,93.65 L447.16,93.75 L447.93,93.86 L448.70,93.96 L449.47,94.06 L450.24,94.15 L451.01,94.25 L451.78,94.34 L452.56,94.43 L453.33,94.51 L454.10,94.60 L454.87,94.68" stroke="#ffff00" stroke-width="1.25" fill="none" stroke-dasharray="2.64,1.98,0.66,1.98"/>
</g>
<g clip-path="url(#cb)">
<path d="M56.20,165.5 L194.10,165.5" stroke="#ff0000" stroke-width="1.1" fill="none"/>
<path d="M194.10,165.80 L194.87,165.87 L195.64,165.94 L196.42,166.03 L197.19,166.13 L197.96,166.26 L198.73,166.40 L199.50,166.57 L200.27,166.77 L201.04,167.01 L201.82,167.28 L202.59,167.61 L203.36,167.99 L204.13,168.44 L204.90,168.96 L205.67,169.57 L206.45,170.28 L207.22,171.11 L207.99,172.08 L208.76,173.19 L209.53,174.48 L210.30,175.96 L211.07,177.66 L211.85,179.59 L212.62,181.78 L213.39,184.25 L214.16,187.01 L214.93,190.07 L215.70,193.44 L216.48,197.11 L217.25,201.06 L218.02,205.27 L218.79,209.71 L219.56,214.31 L220.33,219.04 L221.10,223.82 L221.88,228.59 L222.65,233.29 L223.42,237.86 L224.19,242.24 L224.96,246.38 L225.73,250.26 L226.50,253.85 L227.28,257.13 L228.05,260.11 L228.82,262.79 L229.59,265.18 L230.36,267.30 L231.13,269.17 L231.91,270.81 L232.68,272.24 L233.45,273.48 L234.22,274.55 L234.99,275.47 L235.76,276.27 L236.53,276.95 L237.31,277.54 L238.08,278.04 L238.85,278.47 L239.62,278.83 L240.39,279.14 L241.16,279.41 L241.93,279.64 L242.71,279.83 L243.48,279.99 L244.25,280.13 L245.02,280.25 L245.79,280.34 L246.56,280.43 L247.34,280.50 L248.11,280.56 L248.88,280.61 L249.65,280.66 L250.42,280.69 L251.19,280.73 L251.96,280.75 L252.74,280.77 L253.51,280.79 L254.28,280.81 L255.05,280.82 L255.82,280.84 L256.59,280.85 L257.36,280.85 L258.14,280.86 L258.91,280.87 L259.68,280.87 L260.45,280.88 L261.22,280.88 L261.99,280.88 L262.77,280.89 L263.54,280.89 L264.31,280.89 L265.08,280.89 L265.85,280.89 L266.62,280.89 L267.39,280.89 L268.17,280.90 L268.94,280.90 L269.71,280.90 L270.48,280.90 L271.25,280.90 L272.02,280.90 L272.79,280.90 L273.57,280.90 L274.34,280.90 L275.11,280.90 L275.88,280.90 L276.65,280.90 L277.42,280.90 L278.20,280.90 L278.97,280.90 L279.74,280.90 L280.51,280.90 L281.28,280.90 L282.05,280.90 L282.82,280.90 L283.60,280.90 L284.37,280.90 L285.14,280.90 L285.91,280.90 L286.68,280.90 L287.45,280.90 L288.23,280.90 L289.00,280.90 L289.77,280.90 L290.54,280.90 L291.31,280.90 L292.08,280.90 L292.85,280.90 L293.63,280.90 L294.40,280.90 L295.17,280.90 L295.94,280.90 L296.71,280.90 L297.48,280.90 L298.25,280.90 L299.03,280.90 L299.80,280.90 L300.57,280.90 L301.34,280.90 L302.11,280.90 L302.88,280.90 L303.66,280.90 L304.43,280.90 L305.20,280.90 L305.97,280.90 L306.74,280.90 L307.51,280.90 L308.28,280.90 L309.06,280.90 L309.83,280.90 L310.60,280.90 L311.37,280.90 L312.14,280.90 L312.91,280.90 L313.68,280.90 L314.46,280.90 L315.23,280.90 L316.00,280.90 L316.77,280.90 L317.54,280.90 L318.31,280.90 L319.09,280.90 L319.86,280.90 L320.63,280.90 L321.40,280.90 L322.17,280.90 L322.94,280.90 L323.71,280.90 L324.49,280.90 L325.26,280.90 L326.03,280.90 L326.80,280.90 L327.57,280.90 L328.34,280.90 L329.11,280.90 L329.89,280.90 L330.66,280.90 L331.43,280.90 L332.20,280.90 L332.97,280.90 L333.74,280.90 L334.52,280.90 L335.29,280.90 L336.06,280.90 L336.83,280.90 L337.60,280.90 L338.37,280.90 L339.14,280.90 L339.92,280.90 L340.69,280.90 L341.46,280.90 L342.23,280.90 L343.00,280.90 L343.77,280.90 L344.54,280.90 L345.32,280.90 L346.09,280.90 L346.86,280.90 L347.63,280.90 L348.40,280.90 L349.17,280.90 L349.95,280.90 L350.72,280.90 L351.49,280.90 L352.26,280.90 L353.03,280.90 L353.80,280.90 L354.57,280.90 L355.35,280.90 L356.12,280.90 L356.89,280.90 L357.66,280.90 L358.43,280.90 L359.20,280.90 L359.97,280.90 L360.75,280.90 L361.52,280.90 L362.29,280.90 L363.06,280.90 L363.83,280.90 L364.60,280.90 L365.38,280.90 L366.15,280.90 L366.92,280.90 L367.69,280.90 L368.46,280.90 L369.23,280.90 L370.00,280.90 L370.78,280.90 L371.55,280.90 L372.32,280.90 L373.09,280.90 L373.86,280.90 L374.63,280.90 L375.41,280.90 L376.18,280.90 L376.95,280.90 L377.72,280.90 L378.49,280.90 L379.26,280.90 L380.03,280.90 L380.81,280.90 L381.58,280.90 L382.35,280.90 L383.12,280.90 L383.89,280.90 L384.66,280.90 L385.43,280.90 L386.21,280.90 L386.98,280.90 L387.75,280.90 L388.52,280.90 L389.29,280.90 L390.06,280.90 L390.84,280.90 L391.61,280.90 L392.38,280.90 L393.15,280.90 L393.92,280.90 L394.69,280.90 L395.46,280.90 L396.24,280.90 L397.01,280.90 L397.78,280.90 L398.55,280.90 L399.32,280.90 L400.09,280.90 L400.86,280.90 L401.64,280.90 L402.41,280.90 L403.18,280.90 L403.95,280.90 L404.72,280.90 L405.49,280.90 L406.27,280.90 L407.04,280.90 L407.81,280.90 L408.58,280.90 L409.35,280.90 L410.12,280.90 L410.89,280.90 L411.67,280.90 L412.44,280.90 L413.21,280.90 L413.98,280.90 L414.75,280.90 L415.52,280.90 L416.29,280.90 L417.07,280.90 L417.84,280.90 L418.61,280.90 L419.38,280.90 L420.15,280.90 L420.92,280.90 L421.70,280.90 L422.47,280.90 L423.24,280.90 L424.01,280.90 L424.78,280.90 L425.55,280.90 L426.32,280.90 L427.10,280.90 L427.87,280.90 L428.64,280.90 L429.41,280.90 L430.18,280.90 L430.95,280.90 L431.72,280.90 L432.50,280.90 L433.27,280.90 L434.04,280.90 L434.81,280.90 L435.58,280.90 L436.35,280.90 L437.13,280.90 L437.90,280.90 L438.67,280.90 L439.44,280.90 L440.21,280.90 L440.98,280.90 L441.75,280.90 L442.53,280.90 L443.30,280.90 L444.07,280.90 L444.84,280.90 L445.61,280.90 L446.38,280.90 L447.16,280.90 L447.93,280.90 L448.70,280.90 L449.47,280.90 L450.24,280.90 L451.01,280.90 L451.78,280.90 L452.56,280.90 L453.33,280.90 L454.10,280.90 L454.87,280.90" stroke="#ff0000" stroke-width="1.25" fill="none"/>
<path d="M56.20,165.5 L217.25,165.5" stroke="#00ff00" stroke-width="1.1" fill="none" stroke-dasharray="2.64,1.32"/>
<path d="M217.25,165.85 L218.02,165.92 L218.79,166.00 L219.56,166.10 L220.33,166.22 L221.10,166.36 L221.88,166.52 L222.65,166.71 L223.42,166.93 L224.19,167.20 L224.96,167.51 L225.73,167.87 L226.50,168.30 L227.28,168.80 L228.05,169.38 L228.82,170.06 L229.59,170.86 L230.36,171.78 L231.13,172.85 L231.91,174.08 L232.68,175.51 L233.45,177.14 L234.22,179.00 L234.99,181.11 L235.76,183.50 L236.53,186.17 L237.31,189.14 L238.08,192.42 L238.85,196.00 L239.62,199.87 L240.39,204.01 L241.16,208.38 L241.93,212.95 L242.71,217.64 L243.48,222.42 L244.25,227.20 L245.02,231.93 L245.79,236.54 L246.56,240.98 L247.34,245.19 L248.11,249.15 L248.88,252.82 L249.65,256.20 L250.42,259.27 L251.19,262.04 L251.96,264.51 L252.74,266.71 L253.51,268.65 L254.28,270.35 L255.05,271.84 L255.82,273.13 L256.59,274.25 L257.36,275.22 L258.14,276.05 L258.91,276.76 L259.68,277.38 L260.45,277.90 L261.22,278.35 L261.99,278.73 L262.77,279.06 L263.54,279.34 L264.31,279.57 L265.08,279.77 L265.85,279.94 L266.62,280.09 L267.39,280.21 L268.17,280.32 L268.94,280.41 L269.71,280.48 L270.48,280.55 L271.25,280.60 L272.02,280.65 L272.79,280.68 L273.57,280.72 L274.34,280.74 L275.11,280.77 L275.88,280.79 L276.65,280.81 L277.42,280.82 L278.20,280.83 L278.97,280.84 L279.74,280.85 L280.51,280.86 L281.28,280.87 L282.05,280.87 L282.82,280.87 L283.60,280.88 L284.37,280.88 L285.14,280.88 L285.91,280.89 L286.68,280.89 L287.45,280.89 L288.23,280.89 L289.00,280.89 L289.77,280.89 L290.54,280.90 L291.31,280.90 L292.08,280.90 L292.85,280.90 L293.63,280.90 L294.40,280.90 L295.17,280.90 L295.94,280.90 L296.71,280.90 L297.48,280.90 L298.25,280.90 L299.03,280.90 L299.80,280.90 L300.57,280.90 L301.34,280.90 L302.11,280.90 L302.88,280.90 L303.66,280.90 L304.43,280.90 L305.20,280.90 L305.97,280.90 L306.74,280.90 L307.51,280.90 L308.28,280.90 L309.06,280.90 L309.83,280.90 L310.60,280.90 L311.37,280.90 L312.14,280.90 L312.91,280.90 L313.68,280.90 L314.46,280.90 L315.23,280.90 L316.00,280.90 L316.77,280.90 L317.54,280.90 L318.31,280.90 L319.09,280.90 L319.86,280.90 L320.63,280.90 L321.40,280.90 L322.17,280.90 L322.94,280.90 L323.71,280.90 L324.49,280.90 L325.26,280.90 L326.03,280.90 L326.80,280.90 L327.57,280.90 L328.34,280.90 L329.11,280.90 L329.89,280.90 L330.66,280.90 L331.43,280.90 L332.20,280.90 L332.97,280.90 L333.74,280.90 L334.52,280.90 L335.29,280.90 L336.06,280.90 L336.83,280.90 L337.60,280.90 L338.37,280.90 L339.14,280.90 L339.92,280.90 L340.69,280.90 L341.46,280.90 L342.23,280.90 L343.00,280.90 L343.77,280.90 L344.54,280.90 L345.32,280.90 L346.09,280.90 L346.86,280.90 L347.63,280.90 L348.40,280.90 L349.17,280.90 L349.95,280.90 L350.72,280.90 L351.49,280.90 L352.26,280.90 L353.03,280.90 L353.80,280.90 L354.57,280.90 L355.35,280.90 L356.12,280.90 L356.89,280.90 L357.66,280.90 L358.43,280.90 L359.20,280.90 L359.97,280.90 L360.75,280.90 L361.52,280.90 L362.29,280.90 L363.06,280.90 L363.83,280.90 L364.60,280.90 L365.38,280.90 L366.15,280.90 L366.92,280.90 L367.69,280.90 L368.46,280.90 L369.23,280.90 L370.00,280.90 L370.78,280.90 L371.55,280.90 L372.32,280.90 L373.09,280.90 L373.86,280.90 L374.63,280.90 L375.41,280.90 L376.18,280.90 L376.95,280.90 L377.72,280.90 L378.49,280.90 L379.26,280.90 L380.03,280.90 L380.81,280.90 L381.58,280.90 L382.35,280.90 L383.12,280.90 L383.89,280.90 L384.66,280.90 L385.43,280.90 L386.21,280.90 L386.98,280.90 L387.75,280.90 L388.52,280.90 L389.29,280.90 L390.06,280.90 L390.84,280.90 L391.61,280.90 L392.38,280.90 L393.15,280.90 L393.92,280.90 L394.69,280.90 L395.46,280.90 L396.24,280.90 L397.01,280.90 L397.78,280.90 L398.55,280.90 L399.32,280.90 L400.09,280.90 L400.86,280.90 L401.64,280.90 L402.41,280.90 L403.18,280.90 L403.95,280.90 L404.72,280.90 L405.49,280.90 L406.27,280.90 L407.04,280.90 L407.81,280.90 L408.58,280.90 L409.35,280.90 L410.12,280.90 L410.89,280.90 L411.67,280.90 L412.44,280.90 L413.21,280.90 L413.98,280.90 L414.75,280.90 L415.52,280.90 L416.29,280.90 L417.07,280.90 L417.84,280.90 L418.61,280.90 L419.38,280.90 L420.15,280.90 L420.92,280.90 L421.70,280.90 L422.47,280.90 L423.24,280.90 L424.01,280.90 L424.78,280.90 L425.55,280.90 L426.32,280.90 L427.10,280.90 L427.87,280.90 L428.64,280.90 L429.41,280.90 L430.18,280.90 L430.95,280.90 L431.72,280.90 L432.50,280.90 L433.27,280.90 L434.04,280.90 L434.81,280.90 L435.58,280.90 L436.35,280.90 L437.13,280.90 L437.90,280.90 L438.67,280.90 L439.44,280.90 L440.21,280.90 L440.98,280.90 L441.75,280.90 L442.53,280.90 L443.30,280.90 L444.07,280.90 L444.84,280.90 L445.61,280.90 L446.38,280.90 L447.16,280.90 L447.93,280.90 L448.70,280.90 L449.47,280.90 L450.24,280.90 L451.01,280.90 L451.78,280.90 L452.56,280.90 L453.33,280.90 L454.10,280.90 L454.87,280.90" stroke="#00ff00" stroke-width="1.25" fill="none" stroke-dasharray="2.64,1.32"/>
<path d="M56.20,165.5 L239.62,165.5" stroke="#0000ff" stroke-width="1.1" fill="none" stroke-dasharray="1.32,1.98"/>
<path d="M239.62,165.83 L240.39,165.90 L241.16,165.98 L241.93,166.07 L242.71,166.18 L243.48,166.31 L244.25,166.47 L245.02,166.65 L245.79,166.86 L246.56,167.12 L247.34,167.41 L248.11,167.76 L248.88,168.17 L249.65,168.64 L250.42,169.20 L251.19,169.85 L251.96,170.61 L252.74,171.49 L253.51,172.52 L254.28,173.70 L255.05,175.07 L255.82,176.64 L256.59,178.43 L257.36,180.47 L258.14,182.77 L258.91,185.36 L259.68,188.24 L260.45,191.43 L261.22,194.92 L261.99,198.71 L262.77,202.77 L263.54,207.08 L264.31,211.59 L265.08,216.25 L265.85,221.01 L266.62,225.80 L267.39,230.55 L268.17,235.20 L268.94,239.69 L269.71,243.98 L270.48,248.02 L271.25,251.78 L272.02,255.24 L272.79,258.40 L273.57,261.25 L274.34,263.81 L275.11,266.09 L275.88,268.10 L276.65,269.87 L277.42,271.42 L278.20,272.77 L278.97,273.94 L279.74,274.95 L280.51,275.82 L281.28,276.57 L282.05,277.21 L282.82,277.76 L283.60,278.23 L284.37,278.63 L285.14,278.97 L285.91,279.26 L286.68,279.51 L287.45,279.72 L288.23,279.90 L289.00,280.05 L289.77,280.18 L290.54,280.29 L291.31,280.38 L292.08,280.46 L292.85,280.53 L293.63,280.58 L294.40,280.63 L295.17,280.67 L295.94,280.71 L296.71,280.74 L297.48,280.76 L298.25,280.78 L299.03,280.80 L299.80,280.82 L300.57,280.83 L301.34,280.84 L302.11,280.85 L302.88,280.86 L303.66,280.86 L304.43,280.87 L305.20,280.87 L305.97,280.88 L306.74,280.88 L307.51,280.88 L308.28,280.89 L309.06,280.89 L309.83,280.89 L310.60,280.89 L311.37,280.89 L312.14,280.89 L312.91,280.90 L313.68,280.90 L314.46,280.90 L315.23,280.90 L316.00,280.90 L316.77,280.90 L317.54,280.90 L318.31,280.90 L319.09,280.90 L319.86,280.90 L320.63,280.90 L321.40,280.90 L322.17,280.90 L322.94,280.90 L323.71,280.90 L324.49,280.90 L325.26,280.90 L326.03,280.90 L326.80,280.90 L327.57,280.90 L328.34,280.90 L329.11,280.90 L329.89,280.90 L330.66,280.90 L331.43,280.90 L332.20,280.90 L332.97,280.90 L333.74,280.90 L334.52,280.90 L335.29,280.90 L336.06,280.90 L336.83,280.90 L337.60,280.90 L338.37,280.90 L339.14,280.90 L339.92,280.90 L340.69,280.90 L341.46,280.90 L342.23,280.90 L343.00,280.90 L343.77,280.90 L344.54,280.90 L345.32,280.90 L346.09,280.90 L346.86,280.90 L347.63,280.90 L348.40,280.90 L349.17,280.90 L349.95,280.90 L350.72,280.90 L351.49,280.90 L352.26,280.90 L353.03,280.90 L353.80,280.90 L354.57,280.90 L355.35,280.90 L356.12,280.90 L356.89,280.90 L357.66,280.90 L358.43,280.90 L359.20,280.90 L359.97,280.90 L360.75,280.90 L361.52,280.90 L362.29,280.90 L363.06,280.90 L363.83,280.90 L364.60,280.90 L365.38,280.90 L366.15,280.90 L366.92,280.90 L367.69,280.90 L368.46,280.90 L369.23,280.90 L370.00,280.90 L370.78,280.90 L371.55,280.90 L372.32,280.90 L373.09,280.90 L373.86,280.90 L374.63,280.90 L375.41,280.90 L376.18,280.90 L376.95,280.90 L377.72,280.90 L378.49,280.90 L379.26,280.90 L380.03,280.90 L380.81,280.90 L381.58,280.90 L382.35,280.90 L383.12,280.90 L383.89,280.90 L384.66,280.90 L385.43,280.90 L386.21,280.90 L386.98,280.90 L387.75,280.90 L388.52,280.90 L389.29,280.90 L390.06,280.90 L390.84,280.90 L391.61,280.90 L392.38,280.90 L393.15,280.90 L393.92,280.90 L394.69,280.90 L395.46,280.90 L396.24,280.90 L397.01,280.90 L397.78,280.90 L398.55,280.90 L399.32,280.90 L400.09,280.90 L400.86,280.90 L401.64,280.90 L402.41,280.90 L403.18,280.90 L403.95,280.90 L404.72,280.90 L405.49,280.90 L406.27,280.90 L407.04,280.90 L407.81,280.90 L408.58,280.90 L409.35,280.90 L410.12,280.90 L410.89,280.90 L411.67,280.90 L412.44,280.90 L413.21,280.90 L413.98,280.90 L414.75,280.90 L415.52,280.90 L416.29,280.90 L417.07,280.90 L417.84,280.90 L418.61,280.90 L419.38,280.90 L420.15,280.90 L420.92,280.90 L421.70,280.90 L422.47,280.90 L423.24,280.90 L424.01,280.90 L424.78,280.90 L425.55,280.90 L426.32,280.90 L427.10,280.90 L427.87,280.90 L428.64,280.90 L429.41,280.90 L430.18,280.90 L430.95,280.90 L431.72,280.90 L432.50,280.90 L433.27,280.90 L434.04,280.90 L434.81,280.90 L435.58,280.90 L436.35,280.90 L437.13,280.90 L437.90,280.90 L438.67,280.90 L439.44,280.90 L440.21,280.90 L440.98,280.90 L441.75,280.90 L442.53,280.90 L443.30,280.90 L444.07,280.90 L444.84,280.90 L445.61,280.90 L446.38,280.90 L447.16,280.90 L447.93,280.90 L448.70,280.90 L449.47,280.90 L450.24,280.90 L451.01,280.90 L451.78,280.90 L452.56,280.90 L453.33,280.90 L454.10,280.90 L454.87,280.90" stroke="#0000ff" stroke-width="1.25" fill="none" stroke-dasharray="1.32,1.98"/>
<path d="M56.20,165.5 L261.99,165.5" stroke="#ff00ff" stroke-width="1.0" fill="none" stroke-opacity="0.28"/><path d="M56.20,165.5 L261.99,165.5" stroke="#ff00ff" stroke-width="1.1" fill="none" stroke-dasharray="1.0,1.7"/>
<path d="M261.99,165.81 L262.77,165.88 L263.54,165.95 L264.31,166.04 L265.08,166.15 L265.85,166.27 L266.62,166.42 L267.39,166.59 L268.17,166.80 L268.94,167.04 L269.71,167.32 L270.48,167.65 L271.25,168.04 L272.02,168.50 L272.79,169.03 L273.57,169.65 L274.34,170.38 L275.11,171.22 L275.88,172.20 L276.65,173.34 L277.42,174.65 L278.20,176.15 L278.97,177.88 L279.74,179.84 L280.51,182.07 L281.28,184.57 L282.05,187.36 L282.82,190.46 L283.60,193.87 L284.37,197.57 L285.14,201.55 L285.91,205.79 L286.68,210.25 L287.45,214.87 L288.23,219.61 L289.00,224.39 L289.77,229.16 L290.54,233.85 L291.31,238.40 L292.08,242.75 L292.85,246.86 L293.63,250.70 L294.40,254.26 L295.17,257.50 L295.94,260.45 L296.71,263.09 L297.48,265.45 L298.25,267.54 L299.03,269.38 L299.80,270.99 L300.57,272.39 L301.34,273.61 L302.11,274.67 L302.88,275.58 L303.66,276.36 L304.43,277.03 L305.20,277.60 L305.97,278.10 L306.74,278.52 L307.51,278.87 L308.28,279.18 L309.06,279.44 L309.83,279.66 L310.60,279.85 L311.37,280.01 L312.14,280.14 L312.91,280.26 L313.68,280.36 L314.46,280.44 L315.23,280.51 L316.00,280.57 L316.77,280.62 L317.54,280.66 L318.31,280.70 L319.09,280.73 L319.86,280.76 L320.63,280.78 L321.40,280.80 L322.17,280.81 L322.94,280.83 L323.71,280.84 L324.49,280.85 L325.26,280.85 L326.03,280.86 L326.80,280.87 L327.57,280.87 L328.34,280.88 L329.11,280.88 L329.89,280.88 L330.66,280.89 L331.43,280.89 L332.20,280.89 L332.97,280.89 L333.74,280.89 L334.52,280.89 L335.29,280.89 L336.06,280.90 L336.83,280.90 L337.60,280.90 L338.37,280.90 L339.14,280.90 L339.92,280.90 L340.69,280.90 L341.46,280.90 L342.23,280.90 L343.00,280.90 L343.77,280.90 L344.54,280.90 L345.32,280.90 L346.09,280.90 L346.86,280.90 L347.63,280.90 L348.40,280.90 L349.17,280.90 L349.95,280.90 L350.72,280.90 L351.49,280.90 L352.26,280.90 L353.03,280.90 L353.80,280.90 L354.57,280.90 L355.35,280.90 L356.12,280.90 L356.89,280.90 L357.66,280.90 L358.43,280.90 L359.20,280.90 L359.97,280.90 L360.75,280.90 L361.52,280.90 L362.29,280.90 L363.06,280.90 L363.83,280.90 L364.60,280.90 L365.38,280.90 L366.15,280.90 L366.92,280.90 L367.69,280.90 L368.46,280.90 L369.23,280.90 L370.00,280.90 L370.78,280.90 L371.55,280.90 L372.32,280.90 L373.09,280.90 L373.86,280.90 L374.63,280.90 L375.41,280.90 L376.18,280.90 L376.95,280.90 L377.72,280.90 L378.49,280.90 L379.26,280.90 L380.03,280.90 L380.81,280.90 L381.58,280.90 L382.35,280.90 L383.12,280.90 L383.89,280.90 L384.66,280.90 L385.43,280.90 L386.21,280.90 L386.98,280.90 L387.75,280.90 L388.52,280.90 L389.29,280.90 L390.06,280.90 L390.84,280.90 L391.61,280.90 L392.38,280.90 L393.15,280.90 L393.92,280.90 L394.69,280.90 L395.46,280.90 L396.24,280.90 L397.01,280.90 L397.78,280.90 L398.55,280.90 L399.32,280.90 L400.09,280.90 L400.86,280.90 L401.64,280.90 L402.41,280.90 L403.18,280.90 L403.95,280.90 L404.72,280.90 L405.49,280.90 L406.27,280.90 L407.04,280.90 L407.81,280.90 L408.58,280.90 L409.35,280.90 L410.12,280.90 L410.89,280.90 L411.67,280.90 L412.44,280.90 L413.21,280.90 L413.98,280.90 L414.75,280.90 L415.52,280.90 L416.29,280.90 L417.07,280.90 L417.84,280.90 L418.61,280.90 L419.38,280.90 L420.15,280.90 L420.92,280.90 L421.70,280.90 L422.47,280.90 L423.24,280.90 L424.01,280.90 L424.78,280.90 L425.55,280.90 L426.32,280.90 L427.10,280.90 L427.87,280.90 L428.64,280.90 L429.41,280.90 L430.18,280.90 L430.95,280.90 L431.72,280.90 L432.50,280.90 L433.27,280.90 L434.04,280.90 L434.81,280.90 L435.58,280.90 L436.35,280.90 L437.13,280.90 L437.90,280.90 L438.67,280.90 L439.44,280.90 L440.21,280.90 L440.98,280.90 L441.75,280.90 L442.53,280.90 L443.30,280.90 L444.07,280.90 L444.84,280.90 L445.61,280.90 L446.38,280.90 L447.16,280.90 L447.93,280.90 L448.70,280.90 L449.47,280.90 L450.24,280.90 L451.01,280.90 L451.78,280.90 L452.56,280.90 L453.33,280.90 L454.10,280.90 L454.87,280.90" stroke="#ff00ff" stroke-width="1.2" fill="none" stroke-opacity="0.28"/><path d="M261.99,165.81 L262.77,165.88 L263.54,165.95 L264.31,166.04 L265.08,166.15 L265.85,166.27 L266.62,166.42 L267.39,166.59 L268.17,166.80 L268.94,167.04 L269.71,167.32 L270.48,167.65 L271.25,168.04 L272.02,168.50 L272.79,169.03 L273.57,169.65 L274.34,170.38 L275.11,171.22 L275.88,172.20 L276.65,173.34 L277.42,174.65 L278.20,176.15 L278.97,177.88 L279.74,179.84 L280.51,182.07 L281.28,184.57 L282.05,187.36 L282.82,190.46 L283.60,193.87 L284.37,197.57 L285.14,201.55 L285.91,205.79 L286.68,210.25 L287.45,214.87 L288.23,219.61 L289.00,224.39 L289.77,229.16 L290.54,233.85 L291.31,238.40 L292.08,242.75 L292.85,246.86 L293.63,250.70 L294.40,254.26 L295.17,257.50 L295.94,260.45 L296.71,263.09 L297.48,265.45 L298.25,267.54 L299.03,269.38 L299.80,270.99 L300.57,272.39 L301.34,273.61 L302.11,274.67 L302.88,275.58 L303.66,276.36 L304.43,277.03 L305.20,277.60 L305.97,278.10 L306.74,278.52 L307.51,278.87 L308.28,279.18 L309.06,279.44 L309.83,279.66 L310.60,279.85 L311.37,280.01 L312.14,280.14 L312.91,280.26 L313.68,280.36 L314.46,280.44 L315.23,280.51 L316.00,280.57 L316.77,280.62 L317.54,280.66 L318.31,280.70 L319.09,280.73 L319.86,280.76 L320.63,280.78 L321.40,280.80 L322.17,280.81 L322.94,280.83 L323.71,280.84 L324.49,280.85 L325.26,280.85 L326.03,280.86 L326.80,280.87 L327.57,280.87 L328.34,280.88 L329.11,280.88 L329.89,280.88 L330.66,280.89 L331.43,280.89 L332.20,280.89 L332.97,280.89 L333.74,280.89 L334.52,280.89 L335.29,280.89 L336.06,280.90 L336.83,280.90 L337.60,280.90 L338.37,280.90 L339.14,280.90 L339.92,280.90 L340.69,280.90 L341.46,280.90 L342.23,280.90 L343.00,280.90 L343.77,280.90 L344.54,280.90 L345.32,280.90 L346.09,280.90 L346.86,280.90 L347.63,280.90 L348.40,280.90 L349.17,280.90 L349.95,280.90 L350.72,280.90 L351.49,280.90 L352.26,280.90 L353.03,280.90 L353.80,280.90 L354.57,280.90 L355.35,280.90 L356.12,280.90 L356.89,280.90 L357.66,280.90 L358.43,280.90 L359.20,280.90 L359.97,280.90 L360.75,280.90 L361.52,280.90 L362.29,280.90 L363.06,280.90 L363.83,280.90 L364.60,280.90 L365.38,280.90 L366.15,280.90 L366.92,280.90 L367.69,280.90 L368.46,280.90 L369.23,280.90 L370.00,280.90 L370.78,280.90 L371.55,280.90 L372.32,280.90 L373.09,280.90 L373.86,280.90 L374.63,280.90 L375.41,280.90 L376.18,280.90 L376.95,280.90 L377.72,280.90 L378.49,280.90 L379.26,280.90 L380.03,280.90 L380.81,280.90 L381.58,280.90 L382.35,280.90 L383.12,280.90 L383.89,280.90 L384.66,280.90 L385.43,280.90 L386.21,280.90 L386.98,280.90 L387.75,280.90 L388.52,280.90 L389.29,280.90 L390.06,280.90 L390.84,280.90 L391.61,280.90 L392.38,280.90 L393.15,280.90 L393.92,280.90 L394.69,280.90 L395.46,280.90 L396.24,280.90 L397.01,280.90 L397.78,280.90 L398.55,280.90 L399.32,280.90 L400.09,280.90 L400.86,280.90 L401.64,280.90 L402.41,280.90 L403.18,280.90 L403.95,280.90 L404.72,280.90 L405.49,280.90 L406.27,280.90 L407.04,280.90 L407.81,280.90 L408.58,280.90 L409.35,280.90 L410.12,280.90 L410.89,280.90 L411.67,280.90 L412.44,280.90 L413.21,280.90 L413.98,280.90 L414.75,280.90 L415.52,280.90 L416.29,280.90 L417.07,280.90 L417.84,280.90 L418.61,280.90 L419.38,280.90 L420.15,280.90 L420.92,280.90 L421.70,280.90 L422.47,280.90 L423.24,280.90 L424.01,280.90 L424.78,280.90 L425.55,280.90 L426.32,280.90 L427.10,280.90 L427.87,280.90 L428.64,280.90 L429.41,280.90 L430.18,280.90 L430.95,280.90 L431.72,280.90 L432.50,280.90 L433.27,280.90 L434.04,280.90 L434.81,280.90 L435.58,280.90 L436.35,280.90 L437.13,280.90 L437.90,280.90 L438.67,280.90 L439.44,280.90 L440.21,280.90 L440.98,280.90 L441.75,280.90 L442.53,280.90 L443.30,280.90 L444.07,280.90 L444.84,280.90 L445.61,280.90 L446.38,280.90 L447.16,280.90 L447.93,280.90 L448.70,280.90 L449.47,280.90 L450.24,280.90 L451.01,280.90 L451.78,280.90 L452.56,280.90 L453.33,280.90 L454.10,280.90 L454.87,280.90" stroke="#ff00ff" stroke-width="1.25" fill="none" stroke-dasharray="1.0,1.7"/>
<path d="M56.20,165.5 L285.14,165.5" stroke="#00ffff" stroke-width="1.1" fill="none" stroke-dasharray="3.30,1.32,0.66,1.32"/>
<path d="M285.14,165.86 L285.91,165.93 L286.68,166.01 L287.45,166.12 L288.23,166.23 L289.00,166.37 L289.77,166.54 L290.54,166.73 L291.31,166.96 L292.08,167.23 L292.85,167.55 L293.63,167.92 L294.40,168.35 L295.17,168.86 L295.94,169.46 L296.71,170.15 L297.48,170.96 L298.25,171.90 L299.03,172.99 L299.80,174.24 L300.57,175.69 L301.34,177.35 L302.11,179.24 L302.88,181.38 L303.66,183.80 L304.43,186.51 L305.20,189.52 L305.97,192.84 L306.74,196.45 L307.51,200.36 L308.28,204.52 L309.06,208.92 L309.83,213.50 L310.60,218.21 L311.37,222.99 L312.14,227.77 L312.91,232.49 L313.68,237.08 L314.46,241.49 L315.23,245.68 L316.00,249.61 L316.77,253.25 L317.54,256.58 L318.31,259.62 L319.09,262.35 L319.86,264.79 L320.63,266.95 L321.40,268.86 L322.17,270.54 L322.94,272.00 L323.71,273.27 L324.49,274.37 L325.26,275.32 L326.03,276.14 L326.80,276.84 L327.57,277.44 L328.34,277.96 L329.11,278.40 L329.89,278.77 L330.66,279.09 L331.43,279.37 L332.20,279.60 L332.97,279.80 L333.74,279.96 L334.52,280.11 L335.29,280.23 L336.06,280.33 L336.83,280.42 L337.60,280.49 L338.37,280.55 L339.14,280.61 L339.92,280.65 L340.69,280.69 L341.46,280.72 L342.23,280.75 L343.00,280.77 L343.77,280.79 L344.54,280.81 L345.32,280.82 L346.09,280.83 L346.86,280.84 L347.63,280.85 L348.40,280.86 L349.17,280.87 L349.95,280.87 L350.72,280.88 L351.49,280.88 L352.26,280.88 L353.03,280.89 L353.80,280.89 L354.57,280.89 L355.35,280.89 L356.12,280.89 L356.89,280.89 L357.66,280.89 L358.43,280.90 L359.20,280.90 L359.97,280.90 L360.75,280.90 L361.52,280.90 L362.29,280.90 L363.06,280.90 L363.83,280.90 L364.60,280.90 L365.38,280.90 L366.15,280.90 L366.92,280.90 L367.69,280.90 L368.46,280.90 L369.23,280.90 L370.00,280.90 L370.78,280.90 L371.55,280.90 L372.32,280.90 L373.09,280.90 L373.86,280.90 L374.63,280.90 L375.41,280.90 L376.18,280.90 L376.95,280.90 L377.72,280.90 L378.49,280.90 L379.26,280.90 L380.03,280.90 L380.81,280.90 L381.58,280.90 L382.35,280.90 L383.12,280.90 L383.89,280.90 L384.66,280.90 L385.43,280.90 L386.21,280.90 L386.98,280.90 L387.75,280.90 L388.52,280.90 L389.29,280.90 L390.06,280.90 L390.84,280.90 L391.61,280.90 L392.38,280.90 L393.15,280.90 L393.92,280.90 L394.69,280.90 L395.46,280.90 L396.24,280.90 L397.01,280.90 L397.78,280.90 L398.55,280.90 L399.32,280.90 L400.09,280.90 L400.86,280.90 L401.64,280.90 L402.41,280.90 L403.18,280.90 L403.95,280.90 L404.72,280.90 L405.49,280.90 L406.27,280.90 L407.04,280.90 L407.81,280.90 L408.58,280.90 L409.35,280.90 L410.12,280.90 L410.89,280.90 L411.67,280.90 L412.44,280.90 L413.21,280.90 L413.98,280.90 L414.75,280.90 L415.52,280.90 L416.29,280.90 L417.07,280.90 L417.84,280.90 L418.61,280.90 L419.38,280.90 L420.15,280.90 L420.92,280.90 L421.70,280.90 L422.47,280.90 L423.24,280.90 L424.01,280.90 L424.78,280.90 L425.55,280.90 L426.32,280.90 L427.10,280.90 L427.87,280.90 L428.64,280.90 L429.41,280.90 L430.18,280.90 L430.95,280.90 L431.72,280.90 L432.50,280.90 L433.27,280.90 L434.04,280.90 L434.81,280.90 L435.58,280.90 L436.35,280.90 L437.13,280.90 L437.90,280.90 L438.67,280.90 L439.44,280.90 L440.21,280.90 L440.98,280.90 L441.75,280.90 L442.53,280.90 L443.30,280.90 L444.07,280.90 L444.84,280.90 L445.61,280.90 L446.38,280.90 L447.16,280.90 L447.93,280.90 L448.70,280.90 L449.47,280.90 L450.24,280.90 L451.01,280.90 L451.78,280.90 L452.56,280.90 L453.33,280.90 L454.10,280.90 L454.87,280.90" stroke="#00ffff" stroke-width="1.25" fill="none" stroke-dasharray="3.30,1.32,0.66,1.32"/>
<path d="M56.20,165.5 L307.51,165.5" stroke="#ffff00" stroke-width="1.1" fill="none" stroke-dasharray="2.64,1.98,0.66,1.98"/>
<path d="M307.51,165.84 L308.28,165.91 L309.06,165.99 L309.83,166.08 L310.60,166.20 L311.37,166.33 L312.14,166.49 L312.91,166.67 L313.68,166.89 L314.46,167.15 L315.23,167.45 L316.00,167.80 L316.77,168.22 L317.54,168.71 L318.31,169.27 L319.09,169.94 L319.86,170.71 L320.63,171.61 L321.40,172.65 L322.17,173.86 L322.94,175.24 L323.71,176.84 L324.49,178.66 L325.26,180.73 L326.03,183.06 L326.80,185.69 L327.57,188.61 L328.34,191.83 L329.11,195.36 L329.89,199.18 L330.66,203.28 L331.43,207.61 L332.20,212.14 L332.97,216.82 L333.74,221.58 L334.52,226.37 L335.29,231.11 L336.06,235.75 L336.83,240.22 L337.60,244.48 L338.37,248.48 L339.14,252.21 L339.92,255.64 L340.69,258.76 L341.46,261.58 L342.23,264.10 L343.00,266.35 L343.77,268.33 L344.54,270.07 L345.32,271.59 L346.09,272.92 L346.86,274.07 L347.63,275.06 L348.40,275.91 L349.17,276.65 L349.95,277.28 L350.72,277.82 L351.49,278.28 L352.26,278.67 L353.03,279.01 L353.80,279.29 L354.57,279.53 L355.35,279.74 L356.12,279.92 L356.89,280.07 L357.66,280.19 L358.43,280.30 L359.20,280.39 L359.97,280.47 L360.75,280.53 L361.52,280.59 L362.29,280.64 L363.06,280.68 L363.83,280.71 L364.60,280.74 L365.38,280.76 L366.15,280.79 L366.92,280.80 L367.69,280.82 L368.46,280.83 L369.23,280.84 L370.00,280.85 L370.78,280.86 L371.55,280.86 L372.32,280.87 L373.09,280.87 L373.86,280.88 L374.63,280.88 L375.41,280.88 L376.18,280.89 L376.95,280.89 L377.72,280.89 L378.49,280.89 L379.26,280.89 L380.03,280.89 L380.81,280.90 L381.58,280.90 L382.35,280.90 L383.12,280.90 L383.89,280.90 L384.66,280.90 L385.43,280.90 L386.21,280.90 L386.98,280.90 L387.75,280.90 L388.52,280.90 L389.29,280.90 L390.06,280.90 L390.84,280.90 L391.61,280.90 L392.38,280.90 L393.15,280.90 L393.92,280.90 L394.69,280.90 L395.46,280.90 L396.24,280.90 L397.01,280.90 L397.78,280.90 L398.55,280.90 L399.32,280.90 L400.09,280.90 L400.86,280.90 L401.64,280.90 L402.41,280.90 L403.18,280.90 L403.95,280.90 L404.72,280.90 L405.49,280.90 L406.27,280.90 L407.04,280.90 L407.81,280.90 L408.58,280.90 L409.35,280.90 L410.12,280.90 L410.89,280.90 L411.67,280.90 L412.44,280.90 L413.21,280.90 L413.98,280.90 L414.75,280.90 L415.52,280.90 L416.29,280.90 L417.07,280.90 L417.84,280.90 L418.61,280.90 L419.38,280.90 L420.15,280.90 L420.92,280.90 L421.70,280.90 L422.47,280.90 L423.24,280.90 L424.01,280.90 L424.78,280.90 L425.55,280.90 L426.32,280.90 L427.10,280.90 L427.87,280.90 L428.64,280.90 L429.41,280.90 L430.18,280.90 L430.95,280.90 L431.72,280.90 L432.50,280.90 L433.27,280.90 L434.04,280.90 L434.81,280.90 L435.58,280.90 L436.35,280.90 L437.13,280.90 L437.90,280.90 L438.67,280.90 L439.44,280.90 L440.21,280.90 L440.98,280.90 L441.75,280.90 L442.53,280.90 L443.30,280.90 L444.07,280.90 L444.84,280.90 L445.61,280.90 L446.38,280.90 L447.16,280.90 L447.93,280.90 L448.70,280.90 L449.47,280.90 L450.24,280.90 L451.01,280.90 L451.78,280.90 L452.56,280.90 L453.33,280.90 L454.10,280.90 L454.87,280.90" stroke="#ffff00" stroke-width="1.25" fill="none" stroke-dasharray="2.64,1.98,0.66,1.98"/>
</g>
<path d="M56.20,281.25 L454.60,281.25" stroke="#000" stroke-width="1.0"/>
<path d="M234.60,29.90 L230.40,36.70 L238.80,36.70 Z" stroke="#000" stroke-width="0.85" fill="none"/><rect x="234.10" y="34.10" width="1" height="1" fill="#000" fill-opacity="0.45"/>
<path d="M257.90,30.70 L253.70,37.50 L262.10,37.50 Z" stroke="#000" stroke-width="0.85" fill="none"/><rect x="257.40" y="34.90" width="1" height="1" fill="#000" fill-opacity="0.45"/>
<path d="M281.20,31.60 L277.00,38.40 L285.40,38.40 Z" stroke="#000" stroke-width="0.85" fill="none"/><rect x="280.70" y="35.80" width="1" height="1" fill="#000" fill-opacity="0.45"/>
<path d="M304.50,32.50 L300.30,39.30 L308.70,39.30 Z" stroke="#000" stroke-width="0.85" fill="none"/><rect x="304.00" y="36.70" width="1" height="1" fill="#000" fill-opacity="0.45"/>
<path d="M327.80,33.20 L323.60,40.00 L332.00,40.00 Z" stroke="#000" stroke-width="0.85" fill="none"/><rect x="327.30" y="37.40" width="1" height="1" fill="#000" fill-opacity="0.45"/>
<path d="M351.10,33.20 L346.90,40.00 L355.30,40.00 Z" stroke="#000" stroke-width="0.85" fill="none"/><rect x="350.60" y="37.40" width="1" height="1" fill="#000" fill-opacity="0.45"/>
<path d="M59.70,150.20 L55.50,143.19 L63.90,143.19 Z" stroke="#ff4d00" stroke-width="0.85" fill="none"/><rect x="59.20" y="145.50" width="1" height="1" fill="#ff4d00" fill-opacity="0.45"/>
<path d="M97.70,143.40 L93.50,136.39 L101.90,136.39 Z" stroke="#ff4d00" stroke-width="0.85" fill="none"/><rect x="97.20" y="138.70" width="1" height="1" fill="#ff4d00" fill-opacity="0.45"/>
<path d="M135.70,136.60 L131.50,129.59 L139.90,129.59 Z" stroke="#ff4d00" stroke-width="0.85" fill="none"/><rect x="135.20" y="131.90" width="1" height="1" fill="#ff4d00" fill-opacity="0.45"/>
<path d="M173.70,129.80 L169.50,122.79 L177.90,122.79 Z" stroke="#ff4d00" stroke-width="0.85" fill="none"/><rect x="173.20" y="125.10" width="1" height="1" fill="#ff4d00" fill-opacity="0.45"/>
<path d="M211.70,123.00 L207.50,115.99 L215.90,115.99 Z" stroke="#ff4d00" stroke-width="0.85" fill="none"/><rect x="211.20" y="118.30" width="1" height="1" fill="#ff4d00" fill-opacity="0.45"/>
<g font-family="Liberation Sans, sans-serif" font-size="11.3px" fill="#000">
<text x="47.90" y="298.2">10<tspan font-size="9.0px" dy="-6.9">-7</tspan></text>
<text x="90.55" y="298.2">10<tspan font-size="9.0px" dy="-6.9">-6</tspan></text>
<text x="133.19" y="298.2">10<tspan font-size="9.0px" dy="-6.9">-5</tspan></text>
<text x="175.84" y="298.2">10<tspan font-size="9.0px" dy="-6.9">-4</tspan></text>
<text x="218.49" y="298.2">10<tspan font-size="9.0px" dy="-6.9">-3</tspan></text>
<text x="261.13" y="298.2">10<tspan font-size="9.0px" dy="-6.9">-2</tspan></text>
<text x="303.78" y="298.2">10<tspan font-size="9.0px" dy="-6.9">-1</tspan></text>
<text x="348.53" y="298.2">10<tspan font-size="9.0px" dy="-6.9">0</tspan></text>
<text x="391.18" y="298.2">10<tspan font-size="9.0px" dy="-6.9">1</tspan></text>
<text x="433.82" y="298.2">10<tspan font-size="9.0px" dy="-6.9">2</tspan></text>
<text x="49.40" y="135.71" text-anchor="end">10<tspan font-size="9.0px" dy="-6.4">-1</tspan></text>
<text x="49.40" y="103.54" text-anchor="end">10<tspan font-size="9.0px" dy="-6.4">0</tspan></text>
<text x="49.40" y="71.37" text-anchor="end">10<tspan font-size="9.0px" dy="-6.4">1</tspan></text>
<text x="49.40" y="39.20" text-anchor="end">10<tspan font-size="9.0px" dy="-6.4">2</tspan></text>
<text x="48.4" y="284.90" text-anchor="end">0</text>
<text x="48.4" y="261.81" text-anchor="end">0.2</text>
<text x="48.4" y="238.72" text-anchor="end">0.4</text>
<text x="48.4" y="215.63" text-anchor="end">0.6</text>
<text x="48.4" y="192.54" text-anchor="end">0.8</text>
<text x="48.4" y="169.45" text-anchor="end">1</text>
<text x="255.6" y="315.1" text-anchor="middle" font-size="13px">C(NaCl)&#160;&#160;[M]</text>
<text transform="translate(12.0,107.6) rotate(-90) scale(1.25,1)" font-size="10.2px">τ</text>
<text transform="translate(17.0,103.9) rotate(-90)" font-size="9.6px">corr</text>
<text transform="translate(13.8,80.7) rotate(-90)">[1/k]</text>
<text transform="translate(10.3,237.3) rotate(-90)">P</text>
<text transform="translate(13.9,229.3) rotate(-90)" font-size="9.6px" letter-spacing="0.3">eq|Δ=0</text>
<text x="66.90" y="28.00">C</text>
<text x="74.50" y="31.30" font-size="9.6px" letter-spacing="0.15">melt</text>
<text x="119.50" y="28.00" text-anchor="end" letter-spacing="0.25">(AT)</text>
<text x="68.20" y="39.00">C</text>
<text x="75.80" y="42.30" font-size="9.6px" letter-spacing="0.15">melt</text>
<text x="119.50" y="39.00" text-anchor="end" letter-spacing="0.3">(GC)</text>
<text transform="translate(78.4,50.30) scale(1.25,1)" font-size="10.2px">τ</text>
<text x="82.80" y="53.70" font-size="9.6px">max</text>
<text x="119.50" y="50.30" text-anchor="end">1D</text>
<text transform="translate(78.4,61.90) scale(1.25,1)" font-size="10.2px">τ</text>
<text x="82.80" y="65.30" font-size="9.6px">max</text>
<text x="119.50" y="61.90" text-anchor="end">2D</text>
<text x="401.2" y="168.90" text-anchor="end" letter-spacing="0.12">T=30<tspan font-size="9.6px" dy="-5.4">o</tspan><tspan dy="5.4">C</tspan></text>
<text x="401.2" y="180.56" text-anchor="end" letter-spacing="0.12">40<tspan font-size="9.6px" dy="-5.4">o</tspan><tspan dy="5.4">C</tspan></text>
<text x="401.2" y="192.22" text-anchor="end" letter-spacing="0.12">50<tspan font-size="9.6px" dy="-5.4">o</tspan><tspan dy="5.4">C</tspan></text>
<text x="401.2" y="203.88" text-anchor="end" letter-spacing="0.12">60<tspan font-size="9.6px" dy="-5.4">o</tspan><tspan dy="5.4">C</tspan></text>
<text x="401.2" y="215.54" text-anchor="end" letter-spacing="0.12">70<tspan font-size="9.6px" dy="-5.4">o</tspan><tspan dy="5.4">C</tspan></text>
<text x="401.2" y="227.20" text-anchor="end" letter-spacing="0.12">80<tspan font-size="9.6px" dy="-5.4">o</tspan><tspan dy="5.4">C</tspan></text>
</g>
<path d="M142.50,20.28 L138.30,26.50 L146.70,26.50 Z" stroke="#000" stroke-width="0.85" fill="none"/><rect x="142.00" y="23.90" width="1" height="1" fill="#000" fill-opacity="0.45"/>
<path d="M142.50,40.87 L138.30,34.65 L146.70,34.65 Z" stroke="#ff4d00" stroke-width="0.85" fill="none"/><rect x="142.00" y="36.25" width="1" height="1" fill="#ff4d00" fill-opacity="0.45"/>
<path d="M126.5,47.8 L159.1,47.8" stroke="#808080" stroke-width="1" fill="none" stroke-dasharray="1.32,1.32,1.32,1.32,1.32,1.32,1.32,2.64"/>
<path d="M126.5,59.5 L159.1,59.5" stroke="#ff0000" stroke-width="1.0" fill="none"/>
<path d="M408.3,164.10 L440.8,164.10" stroke="#ff0000" stroke-width="1.4" fill="none"/>
<path d="M408.3,175.76 L440.8,175.76" stroke="#00ff00" stroke-width="1.4" fill="none" stroke-dasharray="2.64,1.32"/>
<path d="M408.3,187.42 L440.8,187.42" stroke="#0000ff" stroke-width="1.4" fill="none" stroke-dasharray="1.32,1.98"/>
<path d="M408.3,199.08 L440.8,199.08" stroke="#ff00ff" stroke-width="1.2" fill="none" stroke-opacity="0.28"/><path d="M408.3,199.08 L440.8,199.08" stroke="#ff00ff" stroke-width="1.4" fill="none" stroke-dasharray="1.0,1.7"/>
<path d="M408.3,210.74 L440.8,210.74" stroke="#00ffff" stroke-width="1.4" fill="none" stroke-dasharray="3.30,1.32,0.66,1.32"/>
<path d="M408.3,222.40 L440.8,222.40" stroke="#ffff00" stroke-width="1.4" fill="none" stroke-dasharray="2.64,1.98,0.66,1.98"/>
</svg>
</body></html>
